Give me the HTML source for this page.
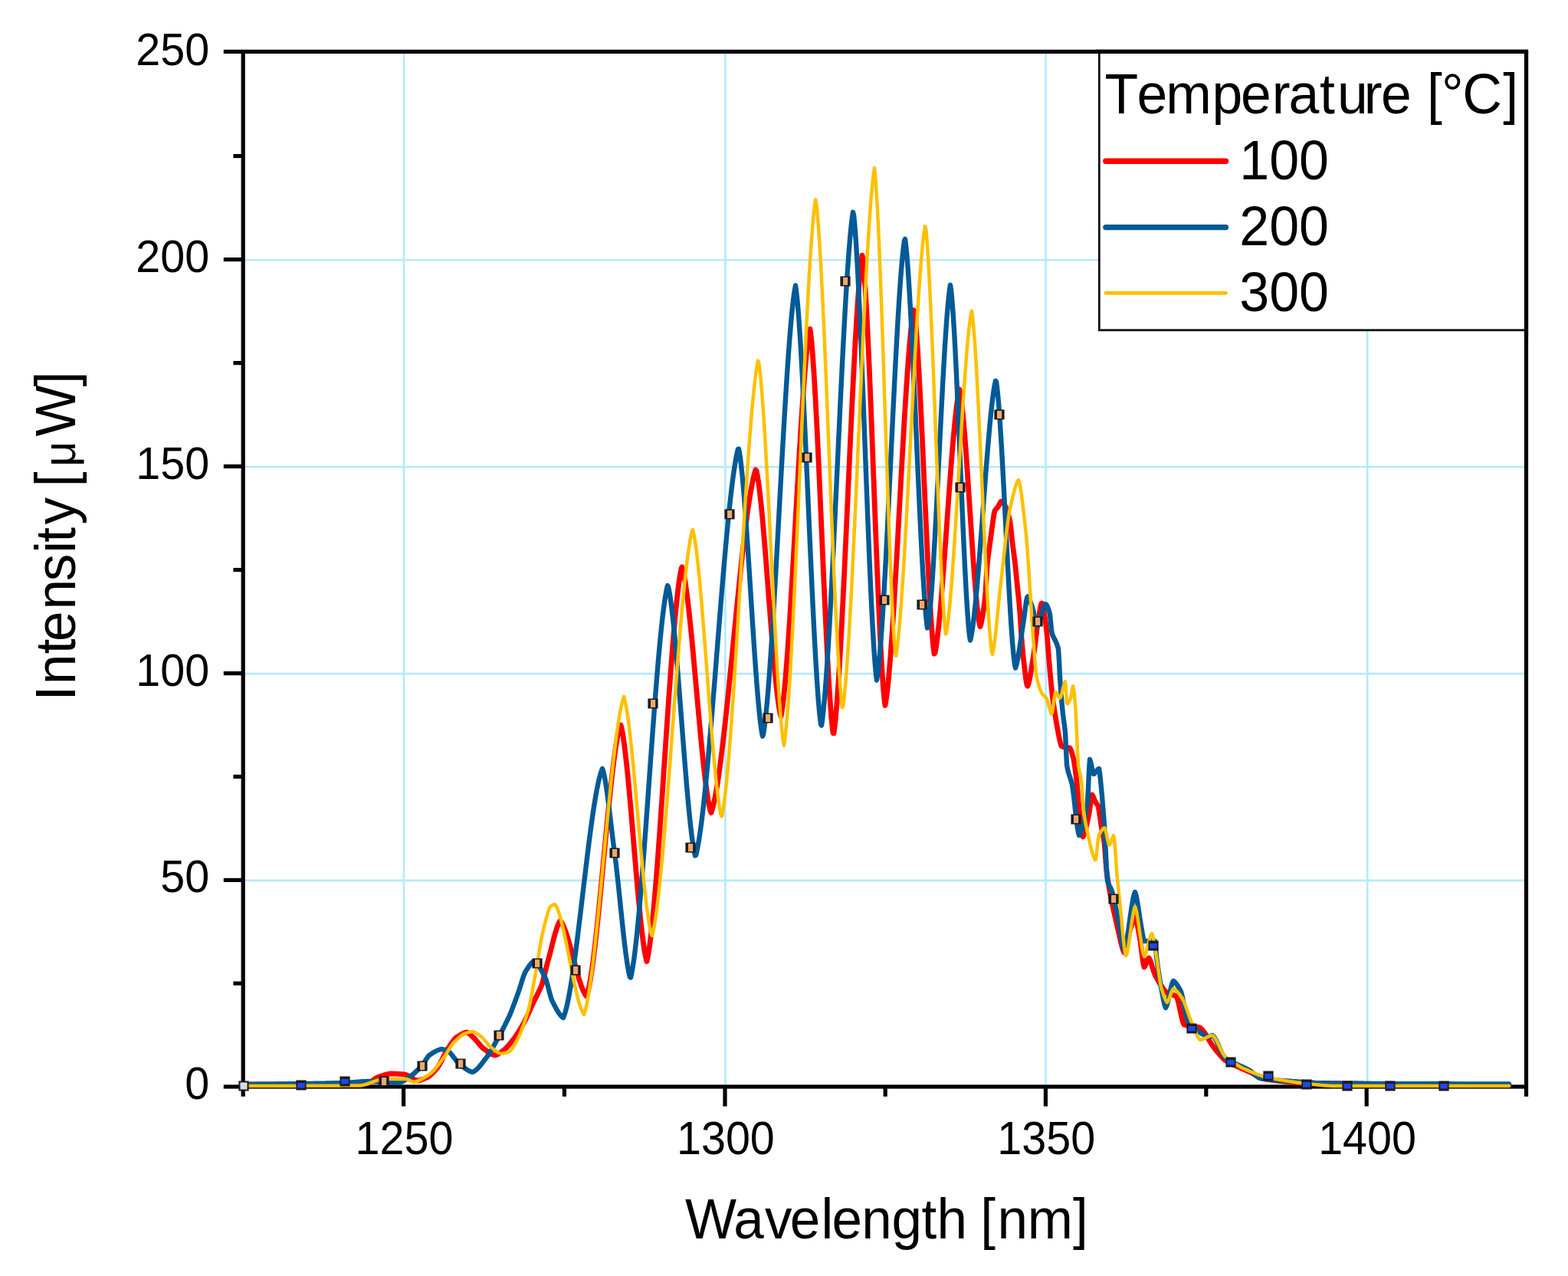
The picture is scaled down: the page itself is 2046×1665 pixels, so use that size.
<!DOCTYPE html><html><head><meta charset="utf-8"><style>html,body{margin:0;padding:0;background:#fff;overflow:hidden;}svg{display:block;}</style></head><body><svg width="2046" height="1665" viewBox="0 0 2046 1665">
<rect width="2046" height="1665" fill="#fff"/>
<line x1="527.0" y1="67.4" x2="527.0" y2="1418.0" stroke="#b4eafc" stroke-width="2.6"/>
<line x1="946.4" y1="67.4" x2="946.4" y2="1418.0" stroke="#b4eafc" stroke-width="2.6"/>
<line x1="1364.6" y1="67.4" x2="1364.6" y2="1418.0" stroke="#b4eafc" stroke-width="2.6"/>
<line x1="1784.2" y1="67.4" x2="1784.2" y2="1418.0" stroke="#b4eafc" stroke-width="2.6"/>
<line x1="317.2" y1="339.3" x2="1991.5" y2="339.3" stroke="#b4eafc" stroke-width="2.6"/>
<line x1="317.2" y1="609.3" x2="1991.5" y2="609.3" stroke="#b4eafc" stroke-width="2.6"/>
<line x1="317.2" y1="879.1" x2="1991.5" y2="879.1" stroke="#b4eafc" stroke-width="2.6"/>
<line x1="317.2" y1="1148.9" x2="1991.5" y2="1148.9" stroke="#b4eafc" stroke-width="2.6"/>
<g stroke="#000" stroke-width="5.2" fill="none" stroke-linecap="butt">
<rect x="317.2" y="67.4" width="1674.3" height="1350.6"/>
<line x1="291.8" y1="1418.0" x2="317.2" y2="1418.0"/>
<line x1="291.8" y1="1148.4" x2="317.2" y2="1148.4"/>
<line x1="291.8" y1="878.6" x2="317.2" y2="878.6"/>
<line x1="291.8" y1="608.6" x2="317.2" y2="608.6"/>
<line x1="291.8" y1="338.6" x2="317.2" y2="338.6"/>
<line x1="291.8" y1="67.4" x2="317.2" y2="67.4"/>
<line x1="304.4" y1="1283.2" x2="317.2" y2="1283.2"/>
<line x1="304.4" y1="1013.4" x2="317.2" y2="1013.4"/>
<line x1="304.4" y1="743.6" x2="317.2" y2="743.6"/>
<line x1="304.4" y1="473.6" x2="317.2" y2="473.6"/>
<line x1="304.4" y1="203.6" x2="317.2" y2="203.6"/>
<line x1="526.6" y1="1418.0" x2="526.6" y2="1443.6"/>
<line x1="946.0" y1="1418.0" x2="946.0" y2="1443.6"/>
<line x1="1364.4" y1="1418.0" x2="1364.4" y2="1443.6"/>
<line x1="1783.2" y1="1418.0" x2="1783.2" y2="1443.6"/>
<line x1="736.4" y1="1418.0" x2="736.4" y2="1430.8"/>
<line x1="1155.2" y1="1418.0" x2="1155.2" y2="1430.8"/>
<line x1="1573.8" y1="1418.0" x2="1573.8" y2="1430.8"/>
<line x1="317.2" y1="1418.0" x2="317.2" y2="1430.8"/>
<line x1="1991.5" y1="1418.0" x2="1991.5" y2="1430.8"/>
</g>
<g fill="none" stroke-linejoin="round" stroke-linecap="round">
<path d="M319.0 1415.0L320.0 1415.0L321.0 1415.0L322.0 1415.0L323.0 1415.0L324.0 1415.0L325.0 1415.0L326.0 1415.0L327.0 1415.0L328.0 1415.0L329.0 1415.0L330.0 1415.0L331.0 1415.0L332.0 1415.0L333.0 1415.0L334.0 1414.9L335.0 1414.9L336.0 1414.9L337.0 1414.9L338.0 1414.9L339.0 1414.9L340.0 1414.9L341.0 1414.9L342.0 1414.9L343.0 1414.9L344.0 1414.9L345.0 1414.9L346.0 1414.9L347.0 1414.9L348.0 1414.9L349.0 1414.9L350.0 1414.9L351.0 1414.9L352.0 1414.9L353.0 1414.9L354.0 1414.9L355.0 1414.9L356.0 1414.9L357.0 1414.9L358.0 1414.8L359.0 1414.8L360.0 1414.8L361.0 1414.8L362.0 1414.8L363.0 1414.8L364.0 1414.8L365.0 1414.8L366.0 1414.8L367.0 1414.8L368.0 1414.8L369.0 1414.8L370.0 1414.8L371.0 1414.8L372.0 1414.8L373.0 1414.8L374.0 1414.8L375.0 1414.8L376.0 1414.7L377.0 1414.7L378.0 1414.7L379.0 1414.7L380.0 1414.7L381.0 1414.7L382.0 1414.7L383.0 1414.7L384.0 1414.7L385.0 1414.7L386.0 1414.7L387.0 1414.7L388.0 1414.7L389.0 1414.7L390.0 1414.7L391.0 1414.6L392.0 1414.6L393.0 1414.6L394.0 1414.6L395.0 1414.6L396.0 1414.6L397.0 1414.6L398.0 1414.6L399.0 1414.6L400.0 1414.6L401.0 1414.6L402.0 1414.6L403.0 1414.6L404.0 1414.5L405.0 1414.5L406.0 1414.5L407.0 1414.5L408.0 1414.5L409.0 1414.5L410.0 1414.5L411.0 1414.5L412.0 1414.5L413.0 1414.5L414.0 1414.5L415.0 1414.4L416.0 1414.4L417.0 1414.4L418.0 1414.4L419.0 1414.4L420.0 1414.4L421.0 1414.4L422.0 1414.4L423.0 1414.4L424.0 1414.3L425.0 1414.3L426.0 1414.3L427.0 1414.3L428.0 1414.3L429.0 1414.3L430.0 1414.3L431.0 1414.3L432.0 1414.3L433.0 1414.2L434.0 1414.2L435.0 1414.2L436.0 1414.2L437.0 1414.2L438.0 1414.2L439.0 1414.2L440.0 1414.2L441.0 1414.1L442.0 1414.1L443.0 1414.1L444.0 1414.1L445.0 1414.1L446.0 1414.1L447.0 1414.1L448.0 1414.0L449.0 1414.0L450.0 1414.0L451.0 1414.0L452.0 1414.0L453.0 1414.0L454.0 1414.0L455.0 1413.9L456.0 1413.9L457.0 1413.9L458.0 1413.9L459.0 1413.9L460.0 1413.9L461.0 1413.8L462.0 1413.8L463.0 1413.8L464.0 1413.8L465.0 1413.8L466.0 1413.8L467.0 1413.7L468.0 1413.7L469.0 1413.7L470.0 1413.7L471.0 1413.7L472.0 1413.7L473.0 1413.6L474.0 1413.6L475.0 1413.6L476.0 1413.6L477.0 1413.6L478.0 1413.5L479.0 1413.5L480.0 1413.5L481.0 1413.2L482.0 1412.7L483.0 1412.2L484.0 1411.6L485.0 1410.9L486.0 1410.1L487.0 1409.3L488.0 1408.6L489.0 1407.8L490.0 1407.2L491.0 1406.5L492.0 1406.0L493.0 1405.6L494.0 1405.3L495.0 1404.9L496.0 1404.6L497.0 1404.2L498.0 1403.9L499.0 1403.6L500.0 1403.2L501.0 1402.9L502.0 1402.6L503.0 1402.3L504.0 1402.1L505.0 1401.8L506.0 1401.6L507.0 1401.4L508.0 1401.3L509.0 1401.1L510.0 1401.0L511.0 1401.0L512.0 1401.0L513.0 1401.1L514.0 1401.1L515.0 1401.2L516.0 1401.2L517.0 1401.2L518.0 1401.3L519.0 1401.4L520.0 1401.4L521.0 1401.5L522.0 1401.5L523.0 1401.6L524.0 1401.7L525.0 1401.8L526.0 1401.8L527.0 1401.9L528.0 1402.0L529.0 1402.3L530.0 1402.6L531.0 1403.1L532.0 1403.5L533.0 1404.1L534.0 1404.6L535.0 1405.2L536.0 1405.8L537.0 1406.4L538.0 1407.0L539.0 1407.6L540.0 1408.2L541.0 1408.7L542.0 1409.1L543.0 1409.5L544.0 1409.8L545.0 1410.0L546.0 1409.9L547.0 1409.7L548.0 1409.4L549.0 1409.1L550.0 1408.8L551.0 1408.5L552.0 1408.1L553.0 1407.7L554.0 1407.3L555.0 1406.9L556.0 1406.4L557.0 1405.9L558.0 1405.5L559.0 1405.0L560.0 1404.3L561.0 1403.5L562.0 1402.6L563.0 1401.7L564.0 1400.7L565.0 1399.7L566.0 1398.7L567.0 1397.6L568.0 1396.5L569.0 1395.3L570.0 1394.2L571.0 1393.0L572.0 1391.4L573.0 1389.8L574.0 1388.0L575.0 1386.1L576.0 1384.2L577.0 1382.3L578.0 1380.3L579.0 1378.3L580.0 1376.3L581.0 1374.4L582.0 1372.5L583.0 1370.7L584.0 1369.0L585.0 1367.5L586.0 1366.0L587.0 1364.5L588.0 1363.0L589.0 1361.5L590.0 1360.1L591.0 1358.7L592.0 1357.4L593.0 1356.2L594.0 1355.0L595.0 1354.0L596.0 1353.3L597.0 1352.7L598.0 1352.0L599.0 1351.4L600.0 1350.8L601.0 1350.2L602.0 1349.7L603.0 1349.1L604.0 1348.6L605.0 1348.2L606.0 1347.8L607.0 1347.5L608.0 1347.2L609.0 1347.0L610.0 1347.4L611.0 1347.9L612.0 1348.6L613.0 1349.4L614.0 1350.3L615.0 1351.2L616.0 1352.2L617.0 1353.1L618.0 1354.0L619.0 1355.0L620.0 1356.1L621.0 1357.2L622.0 1358.4L623.0 1359.6L624.0 1360.8L625.0 1362.0L626.0 1363.2L627.0 1364.4L628.0 1365.5L629.0 1366.6L630.0 1367.5L631.0 1368.4L632.0 1369.1L633.0 1369.8L634.0 1370.5L635.0 1371.2L636.0 1372.0L637.0 1372.6L638.0 1373.3L639.0 1373.9L640.0 1374.5L641.0 1375.1L642.0 1375.6L643.0 1376.1L644.0 1376.4L645.0 1376.8L646.0 1377.0L647.0 1376.7L648.0 1376.4L649.0 1375.9L650.0 1375.4L651.0 1374.8L652.0 1374.2L653.0 1373.5L654.0 1372.8L655.0 1372.0L656.0 1371.3L657.0 1370.5L658.0 1369.8L659.0 1369.0L660.0 1368.0L661.0 1367.0L662.0 1365.9L663.0 1364.8L664.0 1363.6L665.0 1362.4L666.0 1361.2L667.0 1359.9L668.0 1358.6L669.0 1357.3L670.0 1356.0L671.0 1354.7L672.0 1353.3L673.0 1352.0L674.0 1350.5L675.0 1348.9L676.0 1347.4L677.0 1345.8L678.0 1344.1L679.0 1342.5L680.0 1340.8L681.0 1339.1L682.0 1337.3L683.0 1335.6L684.0 1333.8L685.0 1332.0L686.0 1330.0L687.0 1327.9L688.0 1325.7L689.0 1323.5L690.0 1321.3L691.0 1319.1L692.0 1316.9L693.0 1314.6L694.0 1312.4L695.0 1310.2L696.0 1308.0L697.0 1305.9L698.0 1303.9L699.0 1301.9L700.0 1300.0L701.0 1298.0L702.0 1296.1L703.0 1294.0L704.0 1291.9L705.0 1289.8L706.0 1287.4L707.0 1285.0L708.0 1281.7L709.0 1278.0L710.0 1274.1L711.0 1270.0L712.0 1265.9L713.0 1261.8L714.0 1257.8L715.0 1254.0L716.0 1250.4L717.0 1246.7L718.0 1242.8L719.0 1238.8L720.0 1234.8L721.0 1230.8L722.0 1226.9L723.0 1223.1L724.0 1219.4L725.0 1215.9L726.0 1212.7L727.0 1209.7L728.0 1207.0L729.0 1204.8L730.0 1202.9L731.0 1201.5L732.0 1202.7L733.0 1204.1L734.0 1205.9L735.0 1207.9L736.0 1210.2L737.0 1212.7L738.0 1215.4L739.0 1218.3L740.0 1221.4L741.0 1224.6L742.0 1228.0L743.0 1231.5L744.0 1235.0L745.0 1238.7L746.0 1242.4L747.0 1246.2L748.0 1250.0L749.0 1253.8L750.0 1257.6L751.0 1261.3L752.0 1265.0L753.0 1268.6L754.0 1272.1L755.0 1275.6L756.0 1278.9L757.0 1282.0L758.0 1285.0L759.0 1287.8L760.0 1290.4L761.0 1292.7L762.0 1294.8L763.0 1296.7L764.0 1298.3L765.0 1299.6L766.0 1298.2L767.0 1294.6L768.0 1290.4L769.0 1285.6L770.0 1280.2L771.0 1274.2L772.0 1267.6L773.0 1260.6L774.0 1253.2L775.0 1245.3L776.0 1237.0L777.0 1228.3L778.0 1219.3L779.0 1210.0L780.0 1200.4L781.0 1190.6L782.0 1180.5L783.0 1170.3L784.0 1160.0L785.0 1149.5L786.0 1138.9L787.0 1128.3L788.0 1117.7L789.0 1107.1L790.0 1096.6L791.0 1086.1L792.0 1075.7L793.0 1065.5L794.0 1055.4L795.0 1045.6L796.0 1036.0L797.0 1026.6L798.0 1017.6L799.0 1008.9L800.0 1000.6L801.0 992.6L802.0 985.1L803.0 978.0L804.0 971.5L805.0 965.4L806.0 959.9L807.0 955.0L808.0 950.8L809.0 947.1L810.0 946.0L811.0 950.0L812.0 954.9L813.0 960.7L814.0 967.3L815.0 974.7L816.0 982.8L817.0 991.5L818.0 1000.9L819.0 1010.7L820.0 1021.1L821.0 1031.8L822.0 1042.9L823.0 1054.3L824.0 1065.9L825.0 1077.7L826.0 1089.6L827.0 1101.5L828.0 1113.5L829.0 1125.4L830.0 1137.1L831.0 1148.7L832.0 1160.0L833.0 1171.0L834.0 1181.6L835.0 1191.8L836.0 1201.5L837.0 1210.7L838.0 1219.2L839.0 1227.1L840.0 1234.3L841.0 1240.7L842.0 1246.2L843.0 1250.8L844.0 1254.5L845.0 1250.1L846.0 1244.7L847.0 1238.5L848.0 1231.5L849.0 1223.6L850.0 1215.0L851.0 1205.7L852.0 1195.7L853.0 1185.1L854.0 1173.9L855.0 1162.2L856.0 1149.9L857.0 1137.3L858.0 1124.2L859.0 1110.7L860.0 1096.9L861.0 1082.8L862.0 1068.4L863.0 1053.9L864.0 1039.2L865.0 1024.4L866.0 1009.4L867.0 994.5L868.0 979.6L869.0 964.7L870.0 949.9L871.0 935.2L872.0 920.7L873.0 906.5L874.0 892.5L875.0 878.7L876.0 865.4L877.0 852.4L878.0 839.8L879.0 827.7L880.0 816.2L881.0 805.2L882.0 794.7L883.0 784.9L884.0 775.8L885.0 767.5L886.0 759.8L887.0 753.0L888.0 747.1L889.0 742.0L890.0 739.9L891.0 743.6L892.0 748.0L893.0 753.2L894.0 759.1L895.0 765.7L896.0 772.9L897.0 780.7L898.0 789.0L899.0 797.8L900.0 807.1L901.0 816.7L902.0 826.7L903.0 837.0L904.0 847.6L905.0 858.4L906.0 869.4L907.0 880.4L908.0 891.6L909.0 902.8L910.0 914.0L911.0 925.1L912.0 936.1L913.0 947.0L914.0 957.7L915.0 968.1L916.0 978.3L917.0 988.1L918.0 997.6L919.0 1006.6L920.0 1015.2L921.0 1023.3L922.0 1030.8L923.0 1037.7L924.0 1043.9L925.0 1049.5L926.0 1054.3L927.0 1058.4L928.0 1060.5L929.0 1057.4L930.0 1053.9L931.0 1049.9L932.0 1045.5L933.0 1040.6L934.0 1035.3L935.0 1029.6L936.0 1023.5L937.0 1017.0L938.0 1010.2L939.0 1003.1L940.0 995.6L941.0 987.8L942.0 979.8L943.0 971.5L944.0 963.0L945.0 954.2L946.0 945.2L947.0 936.0L948.0 926.7L949.0 917.2L950.0 907.5L951.0 897.8L952.0 887.9L953.0 877.9L954.0 867.9L955.0 857.8L956.0 847.7L957.0 837.5L958.0 827.4L959.0 817.2L960.0 807.1L961.0 797.1L962.0 787.1L963.0 777.2L964.0 767.4L965.0 757.7L966.0 748.2L967.0 738.8L968.0 729.6L969.0 720.6L970.0 711.8L971.0 703.2L972.0 694.8L973.0 686.7L974.0 678.9L975.0 671.4L976.0 664.2L977.0 657.3L978.0 650.8L979.0 644.6L980.0 638.8L981.0 633.5L982.0 628.5L983.0 624.0L984.0 619.9L985.0 616.2L986.0 613.1L987.0 614.3L988.0 619.0L989.0 624.8L990.0 631.6L991.0 639.3L992.0 647.9L993.0 657.2L994.0 667.3L995.0 677.9L996.0 689.2L997.0 700.9L998.0 713.1L999.0 725.5L1000.0 738.3L1001.0 751.2L1002.0 764.3L1003.0 777.4L1004.0 790.5L1005.0 803.5L1006.0 816.4L1007.0 829.0L1008.0 841.3L1009.0 853.2L1010.0 864.6L1011.0 875.5L1012.0 885.8L1013.0 895.5L1014.0 904.4L1015.0 912.4L1016.0 919.6L1017.0 925.8L1018.0 931.0L1019.0 935.0L1020.0 929.6L1021.0 922.9L1022.0 915.0L1023.0 905.9L1024.0 895.8L1025.0 884.6L1026.0 872.4L1027.0 859.4L1028.0 845.6L1029.0 831.1L1030.0 815.9L1031.0 800.1L1032.0 783.8L1033.0 767.1L1034.0 750.1L1035.0 732.7L1036.0 715.2L1037.0 697.5L1038.0 679.7L1039.0 662.0L1040.0 644.3L1041.0 626.8L1042.0 609.5L1043.0 592.5L1044.0 575.9L1045.0 559.7L1046.0 544.0L1047.0 529.0L1048.0 514.6L1049.0 500.9L1050.0 488.1L1051.0 476.1L1052.0 465.1L1053.0 455.2L1054.0 446.3L1055.0 438.6L1056.0 432.2L1057.0 429.3L1058.0 436.8L1059.0 446.4L1060.0 457.9L1061.0 471.1L1062.0 485.9L1063.0 502.2L1064.0 519.8L1065.0 538.6L1066.0 558.4L1067.0 579.0L1068.0 600.4L1069.0 622.4L1070.0 644.9L1071.0 667.6L1072.0 690.6L1073.0 713.5L1074.0 736.3L1075.0 758.9L1076.0 781.0L1077.0 802.6L1078.0 823.5L1079.0 843.6L1080.0 862.7L1081.0 880.6L1082.0 897.3L1083.0 912.6L1084.0 926.3L1085.0 938.3L1086.0 948.5L1087.0 956.7L1088.0 956.9L1089.0 949.4L1090.0 940.3L1091.0 929.7L1092.0 917.7L1093.0 904.4L1094.0 889.9L1095.0 874.2L1096.0 857.5L1097.0 839.9L1098.0 821.4L1099.0 802.2L1100.0 782.3L1101.0 761.8L1102.0 740.8L1103.0 719.4L1104.0 697.7L1105.0 675.8L1106.0 653.7L1107.0 631.7L1108.0 609.7L1109.0 587.8L1110.0 566.2L1111.0 544.9L1112.0 524.0L1113.0 503.7L1114.0 484.0L1115.0 464.9L1116.0 446.7L1117.0 429.3L1118.0 413.0L1119.0 397.6L1120.0 383.5L1121.0 370.6L1122.0 359.0L1123.0 348.8L1124.0 340.2L1125.0 333.2L1126.0 338.4L1127.0 348.5L1128.0 361.0L1129.0 375.6L1130.0 392.1L1131.0 410.4L1132.0 430.2L1133.0 451.5L1134.0 474.0L1135.0 497.6L1136.0 522.0L1137.0 547.2L1138.0 572.9L1139.0 598.9L1140.0 625.2L1141.0 651.4L1142.0 677.5L1143.0 703.3L1144.0 728.5L1145.0 753.0L1146.0 776.7L1147.0 799.3L1148.0 820.7L1149.0 840.7L1150.0 859.2L1151.0 875.9L1152.0 890.6L1153.0 903.3L1154.0 913.7L1155.0 920.5L1156.0 914.8L1157.0 907.8L1158.0 899.5L1159.0 890.0L1160.0 879.4L1161.0 867.8L1162.0 855.2L1163.0 841.6L1164.0 827.3L1165.0 812.3L1166.0 796.5L1167.0 780.2L1168.0 763.4L1169.0 746.1L1170.0 728.5L1171.0 710.6L1172.0 692.5L1173.0 674.3L1174.0 656.0L1175.0 637.8L1176.0 619.6L1177.0 601.6L1178.0 583.9L1179.0 566.5L1180.0 549.5L1181.0 532.9L1182.0 517.0L1183.0 501.6L1184.0 487.0L1185.0 473.1L1186.0 460.2L1187.0 448.1L1188.0 437.1L1189.0 427.1L1190.0 418.4L1191.0 410.8L1192.0 404.6L1193.0 405.3L1194.0 413.5L1195.0 424.0L1196.0 436.5L1197.0 450.7L1198.0 466.7L1199.0 484.0L1200.0 502.6L1201.0 522.4L1202.0 543.0L1203.0 564.3L1204.0 586.2L1205.0 608.4L1206.0 630.7L1207.0 653.1L1208.0 675.2L1209.0 697.0L1210.0 718.2L1211.0 738.7L1212.0 758.2L1213.0 776.6L1214.0 793.7L1215.0 809.3L1216.0 823.2L1217.0 835.3L1218.0 845.3L1219.0 853.1L1220.0 852.1L1221.0 846.9L1222.0 840.6L1223.0 833.2L1224.0 824.9L1225.0 815.7L1226.0 805.6L1227.0 794.8L1228.0 783.3L1229.0 771.2L1230.0 758.6L1231.0 745.6L1232.0 732.2L1233.0 718.5L1234.0 704.6L1235.0 690.6L1236.0 676.6L1237.0 662.6L1238.0 648.6L1239.0 634.9L1240.0 621.4L1241.0 608.3L1242.0 595.5L1243.0 583.3L1244.0 571.6L1245.0 560.6L1246.0 550.3L1247.0 540.8L1248.0 532.2L1249.0 524.5L1250.0 517.9L1251.0 512.3L1252.0 508.0L1253.0 512.9L1254.0 519.3L1255.0 527.2L1256.0 536.3L1257.0 546.7L1258.0 558.1L1259.0 570.4L1260.0 583.5L1261.0 597.3L1262.0 611.7L1263.0 626.5L1264.0 641.6L1265.0 656.9L1266.0 672.2L1267.0 687.4L1268.0 702.5L1269.0 717.2L1270.0 731.5L1271.0 745.2L1272.0 758.1L1273.0 770.3L1274.0 781.5L1275.0 791.6L1276.0 800.5L1277.0 808.1L1278.0 814.2L1279.0 817.6L1280.0 814.5L1281.0 810.0L1282.0 804.4L1283.0 797.9L1284.0 790.8L1285.0 783.3L1286.0 771.7L1287.0 755.3L1288.0 739.2L1289.0 728.8L1290.0 721.3L1291.0 714.3L1292.0 707.0L1293.0 699.5L1294.0 692.0L1295.0 684.9L1296.0 677.6L1297.0 670.9L1298.0 666.6L1299.0 665.1L1300.0 663.9L1301.0 662.8L1302.0 661.7L1303.0 660.1L1304.0 658.0L1305.0 655.9L1306.0 654.3L1307.0 654.3L1308.0 655.2L1309.0 656.4L1310.0 657.8L1311.0 659.4L1312.0 661.0L1313.0 663.5L1314.0 666.3L1315.0 669.4L1316.0 672.9L1317.0 676.7L1318.0 681.0L1319.0 689.0L1320.0 698.6L1321.0 708.0L1322.0 715.7L1323.0 723.1L1324.0 730.7L1325.0 739.7L1326.0 749.7L1327.0 759.9L1328.0 769.9L1329.0 779.4L1330.0 789.3L1331.0 802.1L1332.0 819.1L1333.0 833.1L1334.0 844.6L1335.0 855.1L1336.0 864.2L1337.0 872.8L1338.0 881.2L1339.0 888.5L1340.0 894.0L1341.0 895.2L1342.0 892.2L1343.0 888.2L1344.0 883.3L1345.0 877.8L1346.0 871.8L1347.0 865.4L1348.0 859.0L1349.0 852.7L1350.0 846.1L1351.0 838.2L1352.0 829.7L1353.0 821.3L1354.0 813.5L1355.0 807.1L1356.0 801.2L1357.0 795.6L1358.0 790.7L1359.0 787.1L1360.0 787.3L1361.0 791.1L1362.0 796.4L1363.0 802.8L1364.0 809.8L1365.0 817.1L1366.0 826.2L1367.0 838.3L1368.0 851.4L1369.0 864.2L1370.0 875.5L1371.0 886.3L1372.0 896.7L1373.0 906.3L1374.0 914.2L1375.0 921.2L1376.0 927.9L1377.0 934.3L1378.0 940.4L1379.0 946.3L1380.0 951.6L1381.0 956.9L1382.0 962.1L1383.0 966.8L1384.0 970.8L1385.0 973.6L1386.0 974.2L1387.0 974.5L1388.0 974.7L1389.0 974.8L1390.0 974.9L1391.0 975.0L1392.0 975.2L1393.0 975.3L1394.0 975.5L1395.0 975.7L1396.0 976.0L1397.0 977.8L1398.0 980.4L1399.0 983.6L1400.0 987.2L1401.0 991.0L1402.0 997.0L1403.0 1004.0L1404.0 1011.7L1405.0 1020.0L1406.0 1031.3L1407.0 1043.7L1408.0 1055.0L1409.0 1063.9L1410.0 1073.0L1411.0 1081.2L1412.0 1087.9L1413.0 1092.0L1414.0 1090.2L1415.0 1087.5L1416.0 1084.1L1417.0 1080.1L1418.0 1075.8L1419.0 1071.2L1420.0 1066.5L1421.0 1062.0L1422.0 1055.5L1423.0 1047.9L1424.0 1041.1L1425.0 1037.0L1426.0 1038.5L1427.0 1040.9L1428.0 1043.6L1429.0 1046.0L1430.0 1047.5L1431.0 1048.8L1432.0 1050.2L1433.0 1052.0L1434.0 1057.1L1435.0 1063.9L1436.0 1071.2L1437.0 1078.0L1438.0 1083.4L1439.0 1088.4L1440.0 1093.7L1441.0 1100.0L1442.0 1111.9L1443.0 1126.0L1444.0 1138.0L1445.0 1144.8L1446.0 1151.1L1447.0 1157.1L1448.0 1162.8L1449.0 1168.2L1450.0 1173.4L1451.0 1178.3L1452.0 1183.0L1453.0 1187.6L1454.0 1192.1L1455.0 1196.5L1456.0 1200.9L1457.0 1205.2L1458.0 1209.6L1459.0 1214.0L1460.0 1218.1L1461.0 1222.5L1462.0 1226.9L1463.0 1231.2L1464.0 1235.1L1465.0 1238.5L1466.0 1241.2L1467.0 1243.0L1468.0 1241.0L1469.0 1237.9L1470.0 1234.0L1471.0 1229.5L1472.0 1224.8L1473.0 1220.2L1474.0 1215.8L1475.0 1212.0L1476.0 1208.9L1477.0 1205.6L1478.0 1202.5L1479.0 1199.7L1480.0 1197.4L1481.0 1196.0L1482.0 1198.3L1483.0 1201.9L1484.0 1206.4L1485.0 1211.6L1486.0 1216.9L1487.0 1222.0L1488.0 1228.6L1489.0 1236.4L1490.0 1244.6L1491.0 1252.1L1492.0 1258.2L1493.0 1262.0L1494.0 1260.7L1495.0 1258.6L1496.0 1256.0L1497.0 1253.4L1498.0 1251.3L1499.0 1250.0L1500.0 1251.4L1501.0 1253.7L1502.0 1256.5L1503.0 1259.7L1504.0 1263.1L1505.0 1266.4L1506.0 1269.4L1507.0 1272.0L1508.0 1273.8L1509.0 1275.6L1510.0 1277.4L1511.0 1279.2L1512.0 1281.0L1513.0 1282.7L1514.0 1284.3L1515.0 1285.9L1516.0 1287.5L1517.0 1288.9L1518.0 1290.3L1519.0 1291.7L1520.0 1292.9L1521.0 1294.0L1522.0 1295.1L1523.0 1296.0L1524.0 1296.4L1525.0 1296.8L1526.0 1297.1L1527.0 1297.4L1528.0 1297.7L1529.0 1297.9L1530.0 1298.2L1531.0 1298.4L1532.0 1298.7L1533.0 1299.1L1534.0 1299.5L1535.0 1300.0L1536.0 1302.3L1537.0 1305.5L1538.0 1309.5L1539.0 1314.0L1540.0 1318.7L1541.0 1323.4L1542.0 1327.8L1543.0 1331.7L1544.0 1334.9L1545.0 1337.0L1546.0 1337.3L1547.0 1337.6L1548.0 1337.8L1549.0 1338.1L1550.0 1338.3L1551.0 1338.4L1552.0 1338.6L1553.0 1338.8L1554.0 1338.9L1555.0 1339.0L1556.0 1339.2L1557.0 1339.3L1558.0 1339.4L1559.0 1339.6L1560.0 1339.7L1561.0 1339.9L1562.0 1340.1L1563.0 1340.3L1564.0 1340.5L1565.0 1340.7L1566.0 1341.0L1567.0 1341.8L1568.0 1342.8L1569.0 1343.9L1570.0 1345.1L1571.0 1346.5L1572.0 1347.9L1573.0 1349.4L1574.0 1351.0L1575.0 1352.6L1576.0 1354.3L1577.0 1356.0L1578.0 1357.7L1579.0 1359.4L1580.0 1361.0L1581.0 1362.6L1582.0 1364.1L1583.0 1365.6L1584.0 1367.0L1585.0 1368.2L1586.0 1369.5L1587.0 1370.7L1588.0 1372.0L1589.0 1373.2L1590.0 1374.4L1591.0 1375.6L1592.0 1376.8L1593.0 1377.9L1594.0 1379.1L1595.0 1380.1L1596.0 1381.1L1597.0 1382.1L1598.0 1383.0L1599.0 1383.6L1600.0 1384.2L1601.0 1384.8L1602.0 1385.4L1603.0 1386.0L1604.0 1386.5L1605.0 1387.1L1606.0 1387.6L1607.0 1388.1L1608.0 1388.6L1609.0 1389.1L1610.0 1389.6L1611.0 1390.0L1612.0 1390.5L1613.0 1391.0L1614.0 1391.4L1615.0 1391.9L1616.0 1392.3L1617.0 1392.8L1618.0 1393.2L1619.0 1393.6L1620.0 1394.1L1621.0 1394.5L1622.0 1394.9L1623.0 1395.4L1624.0 1395.8L1625.0 1396.2L1626.0 1396.7L1627.0 1397.1L1628.0 1397.6L1629.0 1398.1L1630.0 1398.5L1631.0 1399.0L1632.0 1399.5L1633.0 1400.0L1634.0 1400.5L1635.0 1401.0L1636.0 1401.6L1637.0 1402.1L1638.0 1402.6L1639.0 1403.2L1640.0 1403.7L1641.0 1404.2L1642.0 1404.7L1643.0 1405.2L1644.0 1405.7L1645.0 1406.1L1646.0 1406.6L1647.0 1407.0L1648.0 1407.4L1649.0 1407.7L1650.0 1408.0L1651.0 1408.2L1652.0 1408.3L1653.0 1408.5L1654.0 1408.6L1655.0 1408.7L1656.0 1408.9L1657.0 1409.0L1658.0 1409.2L1659.0 1409.3L1660.0 1409.4L1661.0 1409.6L1662.0 1409.7L1663.0 1409.8L1664.0 1409.9L1665.0 1410.1L1666.0 1410.2L1667.0 1410.3L1668.0 1410.4L1669.0 1410.5L1670.0 1410.6L1671.0 1410.7L1672.0 1410.9L1673.0 1411.0L1674.0 1411.1L1675.0 1411.2L1676.0 1411.3L1677.0 1411.4L1678.0 1411.4L1679.0 1411.5L1680.0 1411.6L1681.0 1411.7L1682.0 1411.8L1683.0 1411.9L1684.0 1412.0L1685.0 1412.0L1686.0 1412.1L1687.0 1412.2L1688.0 1412.3L1689.0 1412.3L1690.0 1412.4L1691.0 1412.5L1692.0 1412.5L1693.0 1412.6L1694.0 1412.7L1695.0 1412.7L1696.0 1412.8L1697.0 1412.8L1698.0 1412.9L1699.0 1413.0L1700.0 1413.0L1701.0 1413.0L1702.0 1413.0L1703.0 1413.1L1704.0 1413.1L1705.0 1413.1L1706.0 1413.1L1707.0 1413.1L1708.0 1413.1L1709.0 1413.1L1710.0 1413.2L1711.0 1413.2L1712.0 1413.2L1713.0 1413.2L1714.0 1413.2L1715.0 1413.2L1716.0 1413.3L1717.0 1413.3L1718.0 1413.3L1719.0 1413.3L1720.0 1413.3L1721.0 1413.3L1722.0 1413.4L1723.0 1413.4L1724.0 1413.4L1725.0 1413.4L1726.0 1413.4L1727.0 1413.4L1728.0 1413.4L1729.0 1413.5L1730.0 1413.5L1731.0 1413.5L1732.0 1413.5L1733.0 1413.5L1734.0 1413.5L1735.0 1413.6L1736.0 1413.6L1737.0 1413.6L1738.0 1413.6L1739.0 1413.6L1740.0 1413.6L1741.0 1413.6L1742.0 1413.7L1743.0 1413.7L1744.0 1413.7L1745.0 1413.7L1746.0 1413.7L1747.0 1413.7L1748.0 1413.7L1749.0 1413.7L1750.0 1413.8L1751.0 1413.8L1752.0 1413.8L1753.0 1413.8L1754.0 1413.8L1755.0 1413.8L1756.0 1413.8L1757.0 1413.9L1758.0 1413.9L1759.0 1413.9L1760.0 1413.9L1761.0 1413.9L1762.0 1413.9L1763.0 1413.9L1764.0 1413.9L1765.0 1414.0L1766.0 1414.0L1767.0 1414.0L1768.0 1414.0L1769.0 1414.0L1770.0 1414.0L1771.0 1414.0L1772.0 1414.0L1773.0 1414.1L1774.0 1414.1L1775.0 1414.1L1776.0 1414.1L1777.0 1414.1L1778.0 1414.1L1779.0 1414.1L1780.0 1414.1L1781.0 1414.2L1782.0 1414.2L1783.0 1414.2L1784.0 1414.2L1785.0 1414.2L1786.0 1414.2L1787.0 1414.2L1788.0 1414.2L1789.0 1414.2L1790.0 1414.3L1791.0 1414.3L1792.0 1414.3L1793.0 1414.3L1794.0 1414.3L1795.0 1414.3L1796.0 1414.3L1797.0 1414.3L1798.0 1414.3L1799.0 1414.4L1800.0 1414.4L1801.0 1414.4L1802.0 1414.4L1803.0 1414.4L1804.0 1414.4L1805.0 1414.4L1806.0 1414.4L1807.0 1414.4L1808.0 1414.5L1809.0 1414.5L1810.0 1414.5L1811.0 1414.5L1812.0 1414.5L1813.0 1414.5L1814.0 1414.5L1815.0 1414.5L1816.0 1414.5L1817.0 1414.5L1818.0 1414.6L1819.0 1414.6L1820.0 1414.6L1821.0 1414.6L1822.0 1414.6L1823.0 1414.6L1824.0 1414.6L1825.0 1414.6L1826.0 1414.6L1827.0 1414.6L1828.0 1414.6L1829.0 1414.7L1830.0 1414.7L1831.0 1414.7L1832.0 1414.7L1833.0 1414.7L1834.0 1414.7L1835.0 1414.7L1836.0 1414.7L1837.0 1414.7L1838.0 1414.7L1839.0 1414.7L1840.0 1414.8L1841.0 1414.8L1842.0 1414.8L1843.0 1414.8L1844.0 1414.8L1845.0 1414.8L1846.0 1414.8L1847.0 1414.8L1848.0 1414.8L1849.0 1414.8L1850.0 1414.8L1851.0 1414.8L1852.0 1414.9L1853.0 1414.9L1854.0 1414.9L1855.0 1414.9L1856.0 1414.9L1857.0 1414.9L1858.0 1414.9L1859.0 1414.9L1860.0 1414.9L1861.0 1414.9L1862.0 1414.9L1863.0 1414.9L1864.0 1414.9L1865.0 1415.0L1866.0 1415.0L1867.0 1415.0L1868.0 1415.0L1869.0 1415.0L1870.0 1415.0L1871.0 1415.0L1872.0 1415.0L1873.0 1415.0L1874.0 1415.0L1875.0 1415.0L1876.0 1415.0L1877.0 1415.0L1878.0 1415.0L1879.0 1415.1L1880.0 1415.1L1881.0 1415.1L1882.0 1415.1L1883.0 1415.1L1884.0 1415.1L1885.0 1415.1L1886.0 1415.1L1887.0 1415.1L1888.0 1415.1L1889.0 1415.1L1890.0 1415.1L1891.0 1415.1L1892.0 1415.1L1893.0 1415.1L1894.0 1415.2L1895.0 1415.2L1896.0 1415.2L1897.0 1415.2L1898.0 1415.2L1899.0 1415.2L1900.0 1415.2L1901.0 1415.2L1902.0 1415.2L1903.0 1415.2L1904.0 1415.2L1905.0 1415.2L1906.0 1415.2L1907.0 1415.2L1908.0 1415.2L1909.0 1415.2L1910.0 1415.2L1911.0 1415.3L1912.0 1415.3L1913.0 1415.3L1914.0 1415.3L1915.0 1415.3L1916.0 1415.3L1917.0 1415.3L1918.0 1415.3L1919.0 1415.3L1920.0 1415.3L1921.0 1415.3L1922.0 1415.3L1923.0 1415.3L1924.0 1415.3L1925.0 1415.3L1926.0 1415.3L1927.0 1415.3L1928.0 1415.3L1929.0 1415.3L1930.0 1415.3L1931.0 1415.4L1932.0 1415.4L1933.0 1415.4L1934.0 1415.4L1935.0 1415.4L1936.0 1415.4L1937.0 1415.4L1938.0 1415.4L1939.0 1415.4L1940.0 1415.4L1941.0 1415.4L1942.0 1415.4L1943.0 1415.4L1944.0 1415.4L1945.0 1415.4L1946.0 1415.4L1947.0 1415.4L1948.0 1415.4L1949.0 1415.4L1950.0 1415.4L1951.0 1415.4L1952.0 1415.4L1953.0 1415.4L1954.0 1415.4L1955.0 1415.5L1956.0 1415.5L1957.0 1415.5L1958.0 1415.5L1959.0 1415.5L1960.0 1415.5L1961.0 1415.5L1962.0 1415.5L1963.0 1415.5L1964.0 1415.5L1965.0 1415.5L1966.0 1415.5L1967.0 1415.5L1968.0 1415.5L1969.0 1415.5" stroke="#ff0000" stroke-width="6.8"/>
<path d="M319.0 1415.0L320.0 1415.0L321.0 1415.0L322.0 1415.0L323.0 1415.0L324.0 1415.0L325.0 1414.9L326.0 1414.9L327.0 1414.9L328.0 1414.9L329.0 1414.9L330.0 1414.9L331.0 1414.9L332.0 1414.9L333.0 1414.9L334.0 1414.9L335.0 1414.8L336.0 1414.8L337.0 1414.8L338.0 1414.8L339.0 1414.8L340.0 1414.8L341.0 1414.8L342.0 1414.8L343.0 1414.8L344.0 1414.7L345.0 1414.7L346.0 1414.7L347.0 1414.7L348.0 1414.7L349.0 1414.7L350.0 1414.7L351.0 1414.7L352.0 1414.6L353.0 1414.6L354.0 1414.6L355.0 1414.6L356.0 1414.6L357.0 1414.6L358.0 1414.6L359.0 1414.6L360.0 1414.5L361.0 1414.5L362.0 1414.5L363.0 1414.5L364.0 1414.5L365.0 1414.5L366.0 1414.5L367.0 1414.5L368.0 1414.4L369.0 1414.4L370.0 1414.4L371.0 1414.4L372.0 1414.4L373.0 1414.4L374.0 1414.4L375.0 1414.4L376.0 1414.3L377.0 1414.3L378.0 1414.3L379.0 1414.3L380.0 1414.3L381.0 1414.3L382.0 1414.3L383.0 1414.2L384.0 1414.2L385.0 1414.2L386.0 1414.2L387.0 1414.2L388.0 1414.2L389.0 1414.2L390.0 1414.1L391.0 1414.1L392.0 1414.1L393.0 1414.1L394.0 1414.1L395.0 1414.1L396.0 1414.1L397.0 1414.0L398.0 1414.0L399.0 1414.0L400.0 1414.0L401.0 1414.0L402.0 1414.0L403.0 1413.9L404.0 1413.9L405.0 1413.9L406.0 1413.9L407.0 1413.9L408.0 1413.9L409.0 1413.8L410.0 1413.8L411.0 1413.8L412.0 1413.8L413.0 1413.8L414.0 1413.8L415.0 1413.7L416.0 1413.7L417.0 1413.7L418.0 1413.7L419.0 1413.7L420.0 1413.7L421.0 1413.6L422.0 1413.6L423.0 1413.6L424.0 1413.6L425.0 1413.6L426.0 1413.5L427.0 1413.5L428.0 1413.5L429.0 1413.5L430.0 1413.5L431.0 1413.5L432.0 1413.4L433.0 1413.4L434.0 1413.4L435.0 1413.4L436.0 1413.3L437.0 1413.3L438.0 1413.3L439.0 1413.3L440.0 1413.3L441.0 1413.2L442.0 1413.2L443.0 1413.2L444.0 1413.2L445.0 1413.1L446.0 1413.1L447.0 1413.1L448.0 1413.1L449.0 1413.0L450.0 1413.0L451.0 1413.0L452.0 1412.9L453.0 1412.8L454.0 1412.8L455.0 1412.7L456.0 1412.6L457.0 1412.6L458.0 1412.5L459.0 1412.4L460.0 1412.3L461.0 1412.3L462.0 1412.2L463.0 1412.1L464.0 1412.0L465.0 1411.9L466.0 1411.8L467.0 1411.8L468.0 1411.7L469.0 1411.6L470.0 1411.5L471.0 1411.5L472.0 1411.4L473.0 1411.3L474.0 1411.3L475.0 1411.2L476.0 1411.1L477.0 1411.1L478.0 1411.1L479.0 1411.0L480.0 1411.0L481.0 1411.0L482.0 1411.0L483.0 1411.1L484.0 1411.1L485.0 1411.2L486.0 1411.2L487.0 1411.3L488.0 1411.3L489.0 1411.4L490.0 1411.4L491.0 1411.5L492.0 1411.5L493.0 1411.6L494.0 1411.7L495.0 1411.7L496.0 1411.8L497.0 1411.8L498.0 1411.9L499.0 1411.9L500.0 1412.0L501.0 1412.1L502.0 1412.1L503.0 1412.2L504.0 1412.2L505.0 1412.3L506.0 1412.3L507.0 1412.4L508.0 1412.5L509.0 1412.5L510.0 1412.6L511.0 1412.6L512.0 1412.7L513.0 1412.7L514.0 1412.8L515.0 1412.8L516.0 1412.9L517.0 1412.9L518.0 1413.0L519.0 1413.0L520.0 1413.0L521.0 1412.8L522.0 1412.5L523.0 1412.1L524.0 1411.7L525.0 1411.2L526.0 1410.7L527.0 1410.1L528.0 1409.5L529.0 1408.9L530.0 1408.3L531.0 1407.6L532.0 1406.9L533.0 1406.3L534.0 1405.6L535.0 1405.0L536.0 1404.2L537.0 1403.4L538.0 1402.6L539.0 1401.7L540.0 1400.9L541.0 1400.0L542.0 1399.1L543.0 1398.1L544.0 1397.2L545.0 1396.2L546.0 1395.2L547.0 1394.2L548.0 1393.2L549.0 1392.1L550.0 1391.1L551.0 1390.0L552.0 1388.7L553.0 1387.2L554.0 1385.6L555.0 1384.0L556.0 1382.4L557.0 1380.9L558.0 1379.4L559.0 1378.1L560.0 1377.0L561.0 1376.3L562.0 1375.7L563.0 1375.0L564.0 1374.3L565.0 1373.7L566.0 1373.1L567.0 1372.5L568.0 1372.0L569.0 1371.5L570.0 1371.0L571.0 1370.5L572.0 1370.1L573.0 1369.8L574.0 1369.5L575.0 1369.2L576.0 1369.0L577.0 1369.1L578.0 1369.3L579.0 1369.5L580.0 1369.7L581.0 1370.0L582.0 1370.3L583.0 1370.7L584.0 1371.0L585.0 1371.7L586.0 1372.6L587.0 1373.6L588.0 1374.6L589.0 1375.8L590.0 1377.0L591.0 1378.3L592.0 1379.6L593.0 1380.9L594.0 1382.3L595.0 1383.5L596.0 1384.8L597.0 1385.9L598.0 1387.0L599.0 1388.0L600.0 1388.8L601.0 1389.5L602.0 1390.3L603.0 1391.1L604.0 1391.9L605.0 1392.6L606.0 1393.4L607.0 1394.1L608.0 1394.8L609.0 1395.5L610.0 1396.1L611.0 1396.7L612.0 1397.3L613.0 1397.8L614.0 1398.2L615.0 1398.6L616.0 1398.9L617.0 1398.8L618.0 1398.3L619.0 1397.7L620.0 1397.0L621.0 1396.2L622.0 1395.3L623.0 1394.4L624.0 1393.4L625.0 1392.3L626.0 1391.1L627.0 1390.0L628.0 1388.7L629.0 1387.5L630.0 1386.2L631.0 1384.9L632.0 1383.5L633.0 1382.2L634.0 1380.9L635.0 1379.6L636.0 1378.3L637.0 1377.0L638.0 1375.5L639.0 1373.9L640.0 1372.2L641.0 1370.5L642.0 1368.8L643.0 1367.0L644.0 1365.2L645.0 1363.4L646.0 1361.6L647.0 1359.8L648.0 1358.0L649.0 1356.1L650.0 1354.3L651.0 1352.4L652.0 1350.6L653.0 1348.7L654.0 1346.8L655.0 1345.0L656.0 1343.1L657.0 1341.2L658.0 1339.2L659.0 1337.3L660.0 1335.3L661.0 1333.3L662.0 1331.3L663.0 1329.2L664.0 1327.1L665.0 1325.0L666.0 1322.6L667.0 1320.1L668.0 1317.5L669.0 1314.9L670.0 1312.2L671.0 1309.6L672.0 1306.8L673.0 1304.1L674.0 1301.3L675.0 1298.6L676.0 1295.8L677.0 1293.0L678.0 1290.0L679.0 1286.8L680.0 1283.6L681.0 1280.3L682.0 1277.2L683.0 1274.2L684.0 1271.4L685.0 1269.0L686.0 1267.4L687.0 1265.8L688.0 1264.2L689.0 1262.6L690.0 1261.1L691.0 1259.7L692.0 1258.4L693.0 1257.2L694.0 1256.2L695.0 1255.3L696.0 1254.5L697.0 1254.0L698.0 1254.6L699.0 1255.5L700.0 1256.5L701.0 1257.6L702.0 1259.0L703.0 1260.4L704.0 1262.0L705.0 1263.6L706.0 1265.4L707.0 1267.2L708.0 1269.1L709.0 1271.1L710.0 1273.0L711.0 1275.0L712.0 1277.0L713.0 1280.0L714.0 1283.4L715.0 1287.1L716.0 1291.0L717.0 1294.9L718.0 1298.6L719.0 1302.0L720.0 1305.0L721.0 1307.0L722.0 1309.0L723.0 1310.9L724.0 1312.9L725.0 1314.8L726.0 1316.6L727.0 1318.4L728.0 1320.0L729.0 1321.6L730.0 1323.0L731.0 1324.4L732.0 1325.5L733.0 1326.5L734.0 1327.4L735.0 1328.0L736.0 1325.5L737.0 1322.6L738.0 1319.2L739.0 1315.4L740.0 1311.2L741.0 1306.5L742.0 1301.5L743.0 1296.2L744.0 1290.5L745.0 1284.5L746.0 1278.2L747.0 1271.7L748.0 1264.8L749.0 1257.8L750.0 1250.5L751.0 1243.0L752.0 1235.3L753.0 1227.5L754.0 1219.5L755.0 1211.4L756.0 1203.2L757.0 1194.9L758.0 1186.6L759.0 1178.2L760.0 1169.7L761.0 1161.3L762.0 1152.8L763.0 1144.4L764.0 1136.1L765.0 1127.8L766.0 1119.6L767.0 1111.5L768.0 1103.5L769.0 1095.7L770.0 1088.0L771.0 1080.5L772.0 1073.2L773.0 1066.2L774.0 1059.3L775.0 1052.8L776.0 1046.5L777.0 1040.5L778.0 1034.8L779.0 1029.5L780.0 1024.5L781.0 1019.8L782.0 1015.6L783.0 1011.8L784.0 1008.4L785.0 1005.5L786.0 1003.0L787.0 1005.9L788.0 1009.8L789.0 1014.6L790.0 1020.2L791.0 1026.5L792.0 1033.3L793.0 1040.7L794.0 1048.4L795.0 1056.5L796.0 1064.7L797.0 1073.1L798.0 1081.4L799.0 1089.7L800.0 1097.8L801.0 1105.6L802.0 1113.0L803.0 1120.8L804.0 1129.2L805.0 1138.0L806.0 1147.1L807.0 1156.4L808.0 1166.0L809.0 1175.7L810.0 1185.3L811.0 1195.0L812.0 1204.5L813.0 1213.8L814.0 1222.8L815.0 1231.5L816.0 1239.7L817.0 1247.3L818.0 1254.4L819.0 1260.8L820.0 1266.5L821.0 1271.3L822.0 1275.1L823.0 1275.5L824.0 1271.0L825.0 1265.8L826.0 1259.8L827.0 1253.1L828.0 1245.6L829.0 1237.6L830.0 1228.9L831.0 1219.6L832.0 1209.7L833.0 1199.4L834.0 1188.5L835.0 1177.2L836.0 1165.5L837.0 1153.4L838.0 1141.0L839.0 1128.3L840.0 1115.3L841.0 1102.0L842.0 1088.5L843.0 1074.9L844.0 1061.1L845.0 1047.2L846.0 1033.3L847.0 1019.3L848.0 1005.3L849.0 991.4L850.0 977.5L851.0 963.7L852.0 950.1L853.0 936.7L854.0 923.4L855.0 910.4L856.0 897.7L857.0 885.3L858.0 873.3L859.0 861.6L860.0 850.4L861.0 839.6L862.0 829.3L863.0 819.5L864.0 810.2L865.0 801.6L866.0 793.6L867.0 786.2L868.0 779.6L869.0 773.7L870.0 768.5L871.0 764.1L872.0 765.7L873.0 770.3L874.0 776.0L875.0 782.5L876.0 789.9L877.0 798.1L878.0 807.0L879.0 816.5L880.0 826.7L881.0 837.4L882.0 848.6L883.0 860.3L884.0 872.3L885.0 884.6L886.0 897.2L887.0 910.0L888.0 922.9L889.0 935.9L890.0 949.0L891.0 962.0L892.0 974.8L893.0 987.6L894.0 1000.1L895.0 1012.3L896.0 1024.3L897.0 1035.8L898.0 1046.9L899.0 1057.4L900.0 1067.4L901.0 1076.8L902.0 1085.5L903.0 1093.4L904.0 1100.5L905.0 1106.8L906.0 1112.2L907.0 1116.5L908.0 1115.9L909.0 1111.9L910.0 1107.2L911.0 1101.9L912.0 1096.1L913.0 1089.7L914.0 1082.8L915.0 1075.4L916.0 1067.5L917.0 1059.2L918.0 1050.4L919.0 1041.2L920.0 1031.6L921.0 1021.6L922.0 1011.3L923.0 1000.7L924.0 989.8L925.0 978.7L926.0 967.3L927.0 955.6L928.0 943.8L929.0 931.8L930.0 919.6L931.0 907.3L932.0 894.9L933.0 882.4L934.0 869.9L935.0 857.3L936.0 844.7L937.0 832.1L938.0 819.6L939.0 807.1L940.0 794.7L941.0 782.4L942.0 770.2L943.0 758.2L944.0 746.4L945.0 734.7L946.0 723.3L947.0 712.2L948.0 701.3L949.0 690.7L950.0 680.4L951.0 670.4L952.0 660.8L953.0 651.6L954.0 642.8L955.0 634.5L956.0 626.6L957.0 619.2L958.0 612.3L959.0 605.9L960.0 600.1L961.0 594.8L962.0 590.1L963.0 586.1L964.0 585.8L965.0 591.2L966.0 598.0L967.0 606.1L968.0 615.3L969.0 625.5L970.0 636.7L971.0 648.8L972.0 661.7L973.0 675.2L974.0 689.4L975.0 704.1L976.0 719.1L977.0 734.5L978.0 750.1L979.0 765.9L980.0 781.7L981.0 797.4L982.0 813.0L983.0 828.4L984.0 843.4L985.0 858.1L986.0 872.2L987.0 885.6L988.0 898.4L989.0 910.5L990.0 921.6L991.0 931.7L992.0 940.8L993.0 948.7L994.0 955.4L995.0 960.7L996.0 958.3L997.0 952.0L998.0 944.6L999.0 936.0L1000.0 926.4L1001.0 915.8L1002.0 904.3L1003.0 891.9L1004.0 878.7L1005.0 864.8L1006.0 850.2L1007.0 834.9L1008.0 819.1L1009.0 802.8L1010.0 786.0L1011.0 768.8L1012.0 751.3L1013.0 733.5L1014.0 715.5L1015.0 697.4L1016.0 679.1L1017.0 660.8L1018.0 642.6L1019.0 624.4L1020.0 606.3L1021.0 588.5L1022.0 570.9L1023.0 553.6L1024.0 536.7L1025.0 520.2L1026.0 504.3L1027.0 488.8L1028.0 474.0L1029.0 459.9L1030.0 446.5L1031.0 433.8L1032.0 422.1L1033.0 411.2L1034.0 401.3L1035.0 392.4L1036.0 384.6L1037.0 378.0L1038.0 372.5L1039.0 379.5L1040.0 388.3L1041.0 398.9L1042.0 411.2L1043.0 425.0L1044.0 440.1L1045.0 456.6L1046.0 474.2L1047.0 492.8L1048.0 512.4L1049.0 532.7L1050.0 553.8L1051.0 575.4L1052.0 597.5L1053.0 619.9L1054.0 642.6L1055.0 665.3L1056.0 688.0L1057.0 710.6L1058.0 732.9L1059.0 754.8L1060.0 776.2L1061.0 797.0L1062.0 817.1L1063.0 836.3L1064.0 854.5L1065.0 871.7L1066.0 887.6L1067.0 902.2L1068.0 915.4L1069.0 927.0L1070.0 936.9L1071.0 945.0L1072.0 946.6L1073.0 939.6L1074.0 931.2L1075.0 921.5L1076.0 910.5L1077.0 898.3L1078.0 885.0L1079.0 870.6L1080.0 855.3L1081.0 839.1L1082.0 822.0L1083.0 804.2L1084.0 785.7L1085.0 766.6L1086.0 746.9L1087.0 726.8L1088.0 706.2L1089.0 685.4L1090.0 664.3L1091.0 643.0L1092.0 621.6L1093.0 600.2L1094.0 578.9L1095.0 557.6L1096.0 536.5L1097.0 515.7L1098.0 495.2L1099.0 475.1L1100.0 455.5L1101.0 436.4L1102.0 418.0L1103.0 400.2L1104.0 383.3L1105.0 367.1L1106.0 351.9L1107.0 337.6L1108.0 324.4L1109.0 312.3L1110.0 301.5L1111.0 291.9L1112.0 283.6L1113.0 276.8L1114.0 280.5L1115.0 290.4L1116.0 302.6L1117.0 316.8L1118.0 333.0L1119.0 350.9L1120.0 370.4L1121.0 391.3L1122.0 413.5L1123.0 436.9L1124.0 461.1L1125.0 486.1L1126.0 511.7L1127.0 537.8L1128.0 564.1L1129.0 590.5L1130.0 616.9L1131.0 643.0L1132.0 668.8L1133.0 694.0L1134.0 718.5L1135.0 742.1L1136.0 764.6L1137.0 786.0L1138.0 805.9L1139.0 824.3L1140.0 841.1L1141.0 855.9L1142.0 868.7L1143.0 879.3L1144.0 887.5L1145.0 881.2L1146.0 873.3L1147.0 863.9L1148.0 853.1L1149.0 841.0L1150.0 827.6L1151.0 813.2L1152.0 797.7L1153.0 781.3L1154.0 764.0L1155.0 746.0L1156.0 727.3L1157.0 708.0L1158.0 688.2L1159.0 668.0L1160.0 647.5L1161.0 626.9L1162.0 606.0L1163.0 585.2L1164.0 564.4L1165.0 543.8L1166.0 523.4L1167.0 503.3L1168.0 483.7L1169.0 464.6L1170.0 446.0L1171.0 428.2L1172.0 411.2L1173.0 395.0L1174.0 379.9L1175.0 365.7L1176.0 352.8L1177.0 341.1L1178.0 330.7L1179.0 321.7L1180.0 314.3L1181.0 311.9L1182.0 319.7L1183.0 329.6L1184.0 341.3L1185.0 354.9L1186.0 370.0L1187.0 386.6L1188.0 404.5L1189.0 423.5L1190.0 443.6L1191.0 464.5L1192.0 486.0L1193.0 508.2L1194.0 530.7L1195.0 553.4L1196.0 576.3L1197.0 599.0L1198.0 621.6L1199.0 643.8L1200.0 665.4L1201.0 686.4L1202.0 706.5L1203.0 725.7L1204.0 743.7L1205.0 760.4L1206.0 775.7L1207.0 789.4L1208.0 801.4L1209.0 811.4L1210.0 819.4L1211.0 818.5L1212.0 811.0L1213.0 801.9L1214.0 791.0L1215.0 778.7L1216.0 765.0L1217.0 750.0L1218.0 733.9L1219.0 716.9L1220.0 699.0L1221.0 680.5L1222.0 661.3L1223.0 641.7L1224.0 621.8L1225.0 601.8L1226.0 581.7L1227.0 561.7L1228.0 541.9L1229.0 522.6L1230.0 503.7L1231.0 485.4L1232.0 468.0L1233.0 451.4L1234.0 435.9L1235.0 421.5L1236.0 408.5L1237.0 396.9L1238.0 386.8L1239.0 378.5L1240.0 372.0L1241.0 378.2L1242.0 388.1L1243.0 400.4L1244.0 414.7L1245.0 430.9L1246.0 448.8L1247.0 468.2L1248.0 488.9L1249.0 510.6L1250.0 533.1L1251.0 556.3L1252.0 579.9L1253.0 603.8L1254.0 627.6L1255.0 651.2L1256.0 674.4L1257.0 696.9L1258.0 718.6L1259.0 739.3L1260.0 758.7L1261.0 776.6L1262.0 792.8L1263.0 807.1L1264.0 819.4L1265.0 829.3L1266.0 835.6L1267.0 831.4L1268.0 826.1L1269.0 819.7L1270.0 812.3L1271.0 804.1L1272.0 795.1L1273.0 785.3L1274.0 774.8L1275.0 763.7L1276.0 752.1L1277.0 740.0L1278.0 727.5L1279.0 714.7L1280.0 701.6L1281.0 688.3L1282.0 674.9L1283.0 661.5L1284.0 648.0L1285.0 634.7L1286.0 621.5L1287.0 608.6L1288.0 596.0L1289.0 583.7L1290.0 571.9L1291.0 560.6L1292.0 549.8L1293.0 539.8L1294.0 530.4L1295.0 521.8L1296.0 514.1L1297.0 507.4L1298.0 501.6L1299.0 496.9L1300.0 497.9L1301.0 505.3L1302.0 514.7L1303.0 526.0L1304.0 539.0L1305.0 553.4L1306.0 569.1L1307.0 586.0L1308.0 603.7L1309.0 622.3L1310.0 641.4L1311.0 660.8L1312.0 680.5L1313.0 700.3L1314.0 719.8L1315.0 739.1L1316.0 757.8L1317.0 775.8L1318.0 792.9L1319.0 809.0L1320.0 823.9L1321.0 837.3L1322.0 849.1L1323.0 859.1L1324.0 867.1L1325.0 871.6L1326.0 868.7L1327.0 864.8L1328.0 859.9L1329.0 854.3L1330.0 848.1L1331.0 841.4L1332.0 834.6L1333.0 827.7L1334.0 820.8L1335.0 814.3L1336.0 808.0L1337.0 800.6L1338.0 792.7L1339.0 785.5L1340.0 780.0L1341.0 778.4L1342.0 779.7L1343.0 781.6L1344.0 784.0L1345.0 786.6L1346.0 789.4L1347.0 792.3L1348.0 795.7L1349.0 800.8L1350.0 806.7L1351.0 812.2L1352.0 816.3L1353.0 817.0L1354.0 815.4L1355.0 813.1L1356.0 810.5L1357.0 807.4L1358.0 804.2L1359.0 800.9L1360.0 797.7L1361.0 794.8L1362.0 792.1L1363.0 789.9L1364.0 788.4L1365.0 788.6L1366.0 790.1L1367.0 792.2L1368.0 794.8L1369.0 797.7L1370.0 802.0L1371.0 811.9L1372.0 822.3L1373.0 827.5L1374.0 830.0L1375.0 832.1L1376.0 833.9L1377.0 835.8L1378.0 838.0L1379.0 840.5L1380.0 843.3L1381.0 847.0L1382.0 862.6L1383.0 883.1L1384.0 898.7L1385.0 911.2L1386.0 922.6L1387.0 932.2L1388.0 939.6L1389.0 946.9L1390.0 956.0L1391.0 977.8L1392.0 998.0L1393.0 1003.3L1394.0 1007.5L1395.0 1010.8L1396.0 1013.8L1397.0 1016.7L1398.0 1020.0L1399.0 1024.0L1400.0 1030.5L1401.0 1038.4L1402.0 1047.0L1403.0 1056.1L1404.0 1065.0L1405.0 1073.3L1406.0 1080.5L1407.0 1086.3L1408.0 1090.0L1409.0 1088.4L1410.0 1086.3L1411.0 1083.6L1412.0 1080.6L1413.0 1077.0L1414.0 1073.1L1415.0 1068.6L1416.0 1063.8L1417.0 1058.6L1418.0 1053.0L1419.0 1047.0L1420.0 1028.9L1421.0 1005.9L1422.0 991.0L1423.0 993.6L1424.0 998.0L1425.0 1003.0L1426.0 1007.4L1427.0 1010.0L1428.0 1009.4L1429.0 1008.4L1430.0 1007.2L1431.0 1005.8L1432.0 1004.6L1433.0 1003.6L1434.0 1003.0L1435.0 1008.7L1436.0 1018.0L1437.0 1028.0L1438.0 1039.1L1439.0 1051.0L1440.0 1063.6L1441.0 1077.0L1442.0 1095.4L1443.0 1116.3L1444.0 1135.6L1445.0 1149.0L1446.0 1152.2L1447.0 1154.6L1448.0 1156.6L1449.0 1158.5L1450.0 1160.5L1451.0 1163.0L1452.0 1166.7L1453.0 1170.9L1454.0 1175.2L1455.0 1179.9L1456.0 1184.6L1457.0 1189.4L1458.0 1194.2L1459.0 1199.0L1460.0 1204.3L1461.0 1210.3L1462.0 1216.5L1463.0 1222.6L1464.0 1228.4L1465.0 1233.4L1466.0 1237.4L1467.0 1240.0L1468.0 1237.4L1469.0 1233.5L1470.0 1228.5L1471.0 1222.6L1472.0 1216.1L1473.0 1209.2L1474.0 1202.0L1475.0 1194.8L1476.0 1187.9L1477.0 1181.4L1478.0 1175.5L1479.0 1170.5L1480.0 1166.6L1481.0 1164.0L1482.0 1166.8L1483.0 1171.0L1484.0 1176.4L1485.0 1182.6L1486.0 1189.2L1487.0 1195.9L1488.0 1202.3L1489.0 1208.0L1490.0 1213.7L1491.0 1219.7L1492.0 1224.9L1493.0 1228.0L1494.0 1228.0L1495.0 1228.0L1496.0 1228.0L1497.0 1228.0L1498.0 1228.0L1499.0 1228.0L1500.0 1228.0L1501.0 1228.0L1502.0 1228.0L1503.0 1228.0L1504.0 1228.0L1505.0 1228.0L1506.0 1228.0L1507.0 1228.0L1508.0 1236.7L1509.0 1248.0L1510.0 1255.5L1511.0 1262.6L1512.0 1269.4L1513.0 1275.9L1514.0 1282.1L1515.0 1288.0L1516.0 1293.3L1517.0 1298.8L1518.0 1304.1L1519.0 1308.9L1520.0 1312.6L1521.0 1315.0L1522.0 1313.1L1523.0 1310.2L1524.0 1306.4L1525.0 1302.1L1526.0 1297.5L1527.0 1292.9L1528.0 1288.6L1529.0 1284.8L1530.0 1281.9L1531.0 1280.0L1532.0 1280.6L1533.0 1281.5L1534.0 1282.6L1535.0 1283.8L1536.0 1285.3L1537.0 1286.8L1538.0 1288.5L1539.0 1290.3L1540.0 1292.1L1541.0 1294.0L1542.0 1297.4L1543.0 1301.6L1544.0 1306.4L1545.0 1311.5L1546.0 1316.6L1547.0 1321.6L1548.0 1326.1L1549.0 1330.0L1550.0 1333.0L1551.0 1334.1L1552.0 1335.3L1553.0 1336.3L1554.0 1337.4L1555.0 1338.4L1556.0 1339.4L1557.0 1340.4L1558.0 1341.3L1559.0 1342.2L1560.0 1343.0L1561.0 1343.9L1562.0 1344.7L1563.0 1345.4L1564.0 1346.2L1565.0 1346.9L1566.0 1347.6L1567.0 1348.2L1568.0 1348.8L1569.0 1349.4L1570.0 1349.9L1571.0 1350.4L1572.0 1350.9L1573.0 1351.3L1574.0 1351.7L1575.0 1352.1L1576.0 1352.4L1577.0 1352.7L1578.0 1353.0L1579.0 1352.6L1580.0 1352.0L1581.0 1351.4L1582.0 1351.0L1583.0 1351.8L1584.0 1353.0L1585.0 1354.4L1586.0 1356.1L1587.0 1357.9L1588.0 1360.0L1589.0 1362.1L1590.0 1364.4L1591.0 1366.7L1592.0 1368.9L1593.0 1371.1L1594.0 1373.3L1595.0 1375.3L1596.0 1377.1L1597.0 1378.7L1598.0 1380.0L1599.0 1380.7L1600.0 1381.4L1601.0 1382.1L1602.0 1382.7L1603.0 1383.3L1604.0 1383.9L1605.0 1384.5L1606.0 1385.0L1607.0 1385.6L1608.0 1386.1L1609.0 1386.6L1610.0 1387.0L1611.0 1387.5L1612.0 1388.0L1613.0 1388.4L1614.0 1388.9L1615.0 1389.3L1616.0 1389.8L1617.0 1390.2L1618.0 1390.6L1619.0 1391.1L1620.0 1391.5L1621.0 1391.9L1622.0 1392.4L1623.0 1392.8L1624.0 1393.3L1625.0 1393.8L1626.0 1394.3L1627.0 1394.8L1628.0 1395.3L1629.0 1395.9L1630.0 1396.4L1631.0 1397.0L1632.0 1397.7L1633.0 1398.5L1634.0 1399.4L1635.0 1400.2L1636.0 1401.1L1637.0 1402.0L1638.0 1402.9L1639.0 1403.8L1640.0 1404.6L1641.0 1405.3L1642.0 1406.0L1643.0 1406.5L1644.0 1407.0L1645.0 1407.2L1646.0 1407.3L1647.0 1407.5L1648.0 1407.6L1649.0 1407.7L1650.0 1407.9L1651.0 1408.0L1652.0 1408.1L1653.0 1408.2L1654.0 1408.4L1655.0 1408.5L1656.0 1408.6L1657.0 1408.7L1658.0 1408.8L1659.0 1408.9L1660.0 1409.0L1661.0 1409.1L1662.0 1409.2L1663.0 1409.3L1664.0 1409.3L1665.0 1409.4L1666.0 1409.5L1667.0 1409.6L1668.0 1409.7L1669.0 1409.7L1670.0 1409.8L1671.0 1409.9L1672.0 1410.0L1673.0 1410.0L1674.0 1410.1L1675.0 1410.2L1676.0 1410.2L1677.0 1410.3L1678.0 1410.4L1679.0 1410.5L1680.0 1410.5L1681.0 1410.6L1682.0 1410.7L1683.0 1410.8L1684.0 1410.8L1685.0 1410.9L1686.0 1411.0L1687.0 1411.1L1688.0 1411.1L1689.0 1411.2L1690.0 1411.3L1691.0 1411.3L1692.0 1411.4L1693.0 1411.5L1694.0 1411.6L1695.0 1411.6L1696.0 1411.7L1697.0 1411.8L1698.0 1411.8L1699.0 1411.9L1700.0 1412.0L1701.0 1412.1L1702.0 1412.1L1703.0 1412.2L1704.0 1412.3L1705.0 1412.3L1706.0 1412.4L1707.0 1412.5L1708.0 1412.5L1709.0 1412.6L1710.0 1412.7L1711.0 1412.7L1712.0 1412.8L1713.0 1412.8L1714.0 1412.9L1715.0 1413.0L1716.0 1413.0L1717.0 1413.1L1718.0 1413.1L1719.0 1413.2L1720.0 1413.2L1721.0 1413.2L1722.0 1413.3L1723.0 1413.3L1724.0 1413.4L1725.0 1413.4L1726.0 1413.4L1727.0 1413.5L1728.0 1413.5L1729.0 1413.5L1730.0 1413.5L1731.0 1413.5L1732.0 1413.5L1733.0 1413.5L1734.0 1413.5L1735.0 1413.6L1736.0 1413.6L1737.0 1413.6L1738.0 1413.6L1739.0 1413.6L1740.0 1413.6L1741.0 1413.6L1742.0 1413.6L1743.0 1413.6L1744.0 1413.6L1745.0 1413.6L1746.0 1413.6L1747.0 1413.6L1748.0 1413.6L1749.0 1413.7L1750.0 1413.7L1751.0 1413.7L1752.0 1413.7L1753.0 1413.7L1754.0 1413.7L1755.0 1413.7L1756.0 1413.7L1757.0 1413.7L1758.0 1413.7L1759.0 1413.7L1760.0 1413.7L1761.0 1413.7L1762.0 1413.7L1763.0 1413.7L1764.0 1413.8L1765.0 1413.8L1766.0 1413.8L1767.0 1413.8L1768.0 1413.8L1769.0 1413.8L1770.0 1413.8L1771.0 1413.8L1772.0 1413.8L1773.0 1413.8L1774.0 1413.8L1775.0 1413.8L1776.0 1413.8L1777.0 1413.8L1778.0 1413.8L1779.0 1413.8L1780.0 1413.9L1781.0 1413.9L1782.0 1413.9L1783.0 1413.9L1784.0 1413.9L1785.0 1413.9L1786.0 1413.9L1787.0 1413.9L1788.0 1413.9L1789.0 1413.9L1790.0 1413.9L1791.0 1413.9L1792.0 1413.9L1793.0 1413.9L1794.0 1413.9L1795.0 1413.9L1796.0 1413.9L1797.0 1414.0L1798.0 1414.0L1799.0 1414.0L1800.0 1414.0L1801.0 1414.0L1802.0 1414.0L1803.0 1414.0L1804.0 1414.0L1805.0 1414.0L1806.0 1414.0L1807.0 1414.0L1808.0 1414.0L1809.0 1414.0L1810.0 1414.0L1811.0 1414.0L1812.0 1414.0L1813.0 1414.0L1814.0 1414.0L1815.0 1414.0L1816.0 1414.0L1817.0 1414.1L1818.0 1414.1L1819.0 1414.1L1820.0 1414.1L1821.0 1414.1L1822.0 1414.1L1823.0 1414.1L1824.0 1414.1L1825.0 1414.1L1826.0 1414.1L1827.0 1414.1L1828.0 1414.1L1829.0 1414.1L1830.0 1414.1L1831.0 1414.1L1832.0 1414.1L1833.0 1414.1L1834.0 1414.1L1835.0 1414.1L1836.0 1414.1L1837.0 1414.1L1838.0 1414.1L1839.0 1414.2L1840.0 1414.2L1841.0 1414.2L1842.0 1414.2L1843.0 1414.2L1844.0 1414.2L1845.0 1414.2L1846.0 1414.2L1847.0 1414.2L1848.0 1414.2L1849.0 1414.2L1850.0 1414.2L1851.0 1414.2L1852.0 1414.2L1853.0 1414.2L1854.0 1414.2L1855.0 1414.2L1856.0 1414.2L1857.0 1414.2L1858.0 1414.2L1859.0 1414.2L1860.0 1414.2L1861.0 1414.2L1862.0 1414.2L1863.0 1414.2L1864.0 1414.2L1865.0 1414.3L1866.0 1414.3L1867.0 1414.3L1868.0 1414.3L1869.0 1414.3L1870.0 1414.3L1871.0 1414.3L1872.0 1414.3L1873.0 1414.3L1874.0 1414.3L1875.0 1414.3L1876.0 1414.3L1877.0 1414.3L1878.0 1414.3L1879.0 1414.3L1880.0 1414.3L1881.0 1414.3L1882.0 1414.3L1883.0 1414.3L1884.0 1414.3L1885.0 1414.3L1886.0 1414.3L1887.0 1414.3L1888.0 1414.3L1889.0 1414.3L1890.0 1414.3L1891.0 1414.3L1892.0 1414.3L1893.0 1414.3L1894.0 1414.3L1895.0 1414.3L1896.0 1414.3L1897.0 1414.4L1898.0 1414.4L1899.0 1414.4L1900.0 1414.4L1901.0 1414.4L1902.0 1414.4L1903.0 1414.4L1904.0 1414.4L1905.0 1414.4L1906.0 1414.4L1907.0 1414.4L1908.0 1414.4L1909.0 1414.4L1910.0 1414.4L1911.0 1414.4L1912.0 1414.4L1913.0 1414.4L1914.0 1414.4L1915.0 1414.4L1916.0 1414.4L1917.0 1414.4L1918.0 1414.4L1919.0 1414.4L1920.0 1414.4L1921.0 1414.4L1922.0 1414.4L1923.0 1414.4L1924.0 1414.4L1925.0 1414.4L1926.0 1414.4L1927.0 1414.4L1928.0 1414.4L1929.0 1414.4L1930.0 1414.4L1931.0 1414.4L1932.0 1414.4L1933.0 1414.4L1934.0 1414.4L1935.0 1414.4L1936.0 1414.4L1937.0 1414.4L1938.0 1414.4L1939.0 1414.4L1940.0 1414.5L1941.0 1414.5L1942.0 1414.5L1943.0 1414.5L1944.0 1414.5L1945.0 1414.5L1946.0 1414.5L1947.0 1414.5L1948.0 1414.5L1949.0 1414.5L1950.0 1414.5L1951.0 1414.5L1952.0 1414.5L1953.0 1414.5L1954.0 1414.5L1955.0 1414.5L1956.0 1414.5L1957.0 1414.5L1958.0 1414.5L1959.0 1414.5L1960.0 1414.5L1961.0 1414.5L1962.0 1414.5L1963.0 1414.5L1964.0 1414.5L1965.0 1414.5L1966.0 1414.5L1967.0 1414.5L1968.0 1414.5L1969.0 1414.5" stroke="#025a96" stroke-width="6.4"/>
<path d="M319.0 1417.0L320.0 1417.0L321.0 1417.0L322.0 1417.0L323.0 1417.0L324.0 1417.0L325.0 1417.0L326.0 1417.0L327.0 1417.0L328.0 1417.0L329.0 1417.0L330.0 1417.0L331.0 1417.0L332.0 1417.0L333.0 1417.0L334.0 1417.0L335.0 1417.0L336.0 1417.0L337.0 1417.0L338.0 1417.0L339.0 1417.0L340.0 1417.0L341.0 1417.0L342.0 1417.0L343.0 1417.0L344.0 1417.0L345.0 1417.0L346.0 1417.0L347.0 1417.0L348.0 1417.0L349.0 1417.0L350.0 1417.0L351.0 1417.0L352.0 1417.0L353.0 1417.0L354.0 1416.9L355.0 1416.9L356.0 1416.9L357.0 1416.9L358.0 1416.9L359.0 1416.9L360.0 1416.9L361.0 1416.9L362.0 1416.9L363.0 1416.9L364.0 1416.9L365.0 1416.9L366.0 1416.9L367.0 1416.9L368.0 1416.9L369.0 1416.9L370.0 1416.9L371.0 1416.9L372.0 1416.9L373.0 1416.9L374.0 1416.9L375.0 1416.9L376.0 1416.9L377.0 1416.9L378.0 1416.9L379.0 1416.9L380.0 1416.9L381.0 1416.9L382.0 1416.9L383.0 1416.9L384.0 1416.9L385.0 1416.9L386.0 1416.9L387.0 1416.9L388.0 1416.9L389.0 1416.9L390.0 1416.9L391.0 1416.9L392.0 1416.9L393.0 1416.9L394.0 1416.9L395.0 1416.9L396.0 1416.8L397.0 1416.8L398.0 1416.8L399.0 1416.8L400.0 1416.8L401.0 1416.8L402.0 1416.8L403.0 1416.8L404.0 1416.8L405.0 1416.8L406.0 1416.8L407.0 1416.8L408.0 1416.8L409.0 1416.8L410.0 1416.8L411.0 1416.8L412.0 1416.8L413.0 1416.8L414.0 1416.8L415.0 1416.8L416.0 1416.8L417.0 1416.8L418.0 1416.8L419.0 1416.8L420.0 1416.8L421.0 1416.8L422.0 1416.8L423.0 1416.8L424.0 1416.7L425.0 1416.7L426.0 1416.7L427.0 1416.7L428.0 1416.7L429.0 1416.7L430.0 1416.7L431.0 1416.7L432.0 1416.7L433.0 1416.7L434.0 1416.7L435.0 1416.7L436.0 1416.7L437.0 1416.7L438.0 1416.7L439.0 1416.7L440.0 1416.7L441.0 1416.7L442.0 1416.7L443.0 1416.7L444.0 1416.7L445.0 1416.6L446.0 1416.6L447.0 1416.6L448.0 1416.6L449.0 1416.6L450.0 1416.6L451.0 1416.6L452.0 1416.6L453.0 1416.6L454.0 1416.6L455.0 1416.6L456.0 1416.6L457.0 1416.6L458.0 1416.6L459.0 1416.6L460.0 1416.6L461.0 1416.6L462.0 1416.6L463.0 1416.5L464.0 1416.5L465.0 1416.5L466.0 1416.5L467.0 1416.5L468.0 1416.5L469.0 1416.5L470.0 1416.5L471.0 1416.4L472.0 1416.2L473.0 1416.0L474.0 1415.8L475.0 1415.6L476.0 1415.3L477.0 1415.0L478.0 1414.7L479.0 1414.4L480.0 1414.1L481.0 1413.7L482.0 1413.3L483.0 1413.0L484.0 1412.6L485.0 1412.2L486.0 1411.9L487.0 1411.5L488.0 1411.1L489.0 1410.8L490.0 1410.4L491.0 1410.1L492.0 1409.8L493.0 1409.4L494.0 1409.2L495.0 1408.9L496.0 1408.7L497.0 1408.5L498.0 1408.3L499.0 1408.1L500.0 1408.0L501.0 1408.0L502.0 1408.0L503.0 1408.0L504.0 1408.0L505.0 1408.0L506.0 1408.0L507.0 1408.0L508.0 1408.0L509.0 1408.0L510.0 1408.0L511.0 1408.0L512.0 1408.0L513.0 1408.0L514.0 1408.0L515.0 1408.0L516.0 1408.0L517.0 1408.0L518.0 1408.0L519.0 1408.0L520.0 1408.0L521.0 1408.0L522.0 1408.0L523.0 1408.0L524.0 1408.0L525.0 1408.0L526.0 1408.0L527.0 1408.0L528.0 1408.0L529.0 1408.0L530.0 1408.0L531.0 1408.2L532.0 1408.6L533.0 1409.0L534.0 1409.5L535.0 1410.0L536.0 1410.5L537.0 1411.0L538.0 1411.4L539.0 1411.8L540.0 1412.0L541.0 1411.8L542.0 1411.5L543.0 1411.3L544.0 1410.9L545.0 1410.6L546.0 1410.2L547.0 1409.7L548.0 1409.3L549.0 1408.8L550.0 1408.2L551.0 1407.7L552.0 1407.1L553.0 1406.5L554.0 1405.9L555.0 1405.3L556.0 1404.7L557.0 1404.0L558.0 1403.4L559.0 1402.7L560.0 1402.0L561.0 1401.3L562.0 1400.7L563.0 1400.0L564.0 1399.0L565.0 1398.0L566.0 1396.9L567.0 1395.8L568.0 1394.6L569.0 1393.4L570.0 1392.1L571.0 1390.8L572.0 1389.5L573.0 1388.1L574.0 1386.8L575.0 1385.4L576.0 1384.1L577.0 1382.7L578.0 1381.3L579.0 1380.0L580.0 1378.5L581.0 1377.0L582.0 1375.5L583.0 1373.9L584.0 1372.2L585.0 1370.6L586.0 1369.0L587.0 1367.4L588.0 1365.9L589.0 1364.4L590.0 1363.0L591.0 1361.6L592.0 1360.5L593.0 1359.5L594.0 1358.5L595.0 1357.5L596.0 1356.6L597.0 1355.6L598.0 1354.7L599.0 1353.8L600.0 1353.0L601.0 1352.2L602.0 1351.4L603.0 1350.7L604.0 1350.0L605.0 1349.3L606.0 1348.9L607.0 1348.5L608.0 1348.1L609.0 1347.8L610.0 1347.5L611.0 1347.2L612.0 1346.9L613.0 1346.6L614.0 1346.4L615.0 1346.2L616.0 1346.1L617.0 1346.1L618.0 1346.4L619.0 1346.8L620.0 1347.3L621.0 1347.8L622.0 1348.4L623.0 1349.0L624.0 1349.7L625.0 1350.4L626.0 1351.0L627.0 1351.7L628.0 1352.5L629.0 1353.5L630.0 1354.6L631.0 1355.7L632.0 1356.9L633.0 1358.1L634.0 1359.3L635.0 1360.5L636.0 1361.7L637.0 1362.9L638.0 1364.0L639.0 1365.0L640.0 1366.0L641.0 1366.8L642.0 1367.6L643.0 1368.4L644.0 1369.1L645.0 1369.9L646.0 1370.7L647.0 1371.4L648.0 1372.1L649.0 1372.8L650.0 1373.4L651.0 1373.9L652.0 1374.4L653.0 1374.7L654.0 1375.0L655.0 1374.9L656.0 1374.7L657.0 1374.5L658.0 1374.3L659.0 1374.1L660.0 1373.8L661.0 1373.5L662.0 1373.1L663.0 1372.8L664.0 1372.4L665.0 1372.0L666.0 1371.0L667.0 1369.9L668.0 1368.6L669.0 1367.2L670.0 1365.6L671.0 1364.0L672.0 1362.2L673.0 1360.4L674.0 1358.5L675.0 1356.6L676.0 1354.7L677.0 1352.8L678.0 1350.6L679.0 1348.2L680.0 1345.7L681.0 1343.1L682.0 1340.4L683.0 1337.7L684.0 1334.9L685.0 1332.0L686.0 1329.0L687.0 1325.9L688.0 1322.7L689.0 1319.4L690.0 1316.0L691.0 1311.6L692.0 1306.8L693.0 1301.7L694.0 1296.5L695.0 1291.1L696.0 1285.6L697.0 1280.0L698.0 1274.5L699.0 1269.0L700.0 1263.2L701.0 1257.2L702.0 1251.0L703.0 1244.8L704.0 1238.7L705.0 1232.8L706.0 1227.2L707.0 1222.0L708.0 1217.8L709.0 1213.6L710.0 1209.3L711.0 1205.2L712.0 1201.1L713.0 1197.3L714.0 1193.7L715.0 1190.4L716.0 1187.5L717.0 1185.0L718.0 1183.0L719.0 1182.3L720.0 1181.7L721.0 1181.2L722.0 1180.7L723.0 1180.3L724.0 1180.1L725.0 1181.0L726.0 1182.8L727.0 1185.0L728.0 1187.5L729.0 1190.3L730.0 1193.4L731.0 1196.8L732.0 1200.4L733.0 1204.3L734.0 1208.4L735.0 1212.6L736.0 1217.1L737.0 1221.7L738.0 1226.4L739.0 1231.2L740.0 1236.2L741.0 1241.2L742.0 1246.2L743.0 1251.2L744.0 1256.3L745.0 1261.3L746.0 1266.3L747.0 1271.3L748.0 1276.1L749.0 1280.9L750.0 1285.5L751.0 1290.0L752.0 1294.4L753.0 1298.5L754.0 1302.4L755.0 1306.2L756.0 1309.6L757.0 1312.8L758.0 1315.7L759.0 1318.3L760.0 1320.6L761.0 1322.5L762.0 1324.0L763.0 1320.9L764.0 1317.2L765.0 1313.0L766.0 1308.3L767.0 1303.0L768.0 1297.3L769.0 1291.1L770.0 1284.5L771.0 1277.4L772.0 1270.0L773.0 1262.2L774.0 1254.0L775.0 1245.5L776.0 1236.8L777.0 1227.7L778.0 1218.4L779.0 1208.9L780.0 1199.1L781.0 1189.2L782.0 1179.1L783.0 1168.9L784.0 1158.6L785.0 1148.1L786.0 1137.6L787.0 1127.1L788.0 1116.5L789.0 1105.9L790.0 1095.4L791.0 1084.9L792.0 1074.4L793.0 1064.1L794.0 1053.9L795.0 1043.8L796.0 1033.9L797.0 1024.1L798.0 1014.6L799.0 1005.3L800.0 996.2L801.0 987.5L802.0 979.0L803.0 970.8L804.0 963.0L805.0 955.6L806.0 948.5L807.0 941.9L808.0 935.7L809.0 930.0L810.0 924.7L811.0 920.0L812.0 915.8L813.0 912.1L814.0 909.0L815.0 912.4L816.0 916.7L817.0 921.8L818.0 927.7L819.0 934.2L820.0 941.4L821.0 949.3L822.0 957.7L823.0 966.6L824.0 975.9L825.0 985.7L826.0 995.9L827.0 1006.3L828.0 1017.0L829.0 1028.0L830.0 1039.1L831.0 1050.3L832.0 1061.5L833.0 1072.8L834.0 1084.1L835.0 1095.3L836.0 1106.3L837.0 1117.2L838.0 1127.9L839.0 1138.2L840.0 1148.3L841.0 1157.9L842.0 1167.2L843.0 1175.9L844.0 1184.1L845.0 1191.8L846.0 1198.8L847.0 1205.2L848.0 1210.8L849.0 1215.7L850.0 1219.7L851.0 1220.9L852.0 1216.8L853.0 1212.0L854.0 1206.6L855.0 1200.4L856.0 1193.7L857.0 1186.4L858.0 1178.5L859.0 1170.1L860.0 1161.1L861.0 1151.7L862.0 1141.8L863.0 1131.6L864.0 1120.9L865.0 1109.8L866.0 1098.4L867.0 1086.7L868.0 1074.7L869.0 1062.5L870.0 1050.0L871.0 1037.4L872.0 1024.5L873.0 1011.5L874.0 998.4L875.0 985.2L876.0 972.0L877.0 958.7L878.0 945.4L879.0 932.1L880.0 918.9L881.0 905.7L882.0 892.7L883.0 879.8L884.0 867.0L885.0 854.5L886.0 842.1L887.0 830.0L888.0 818.2L889.0 806.7L890.0 795.5L891.0 784.7L892.0 774.2L893.0 764.2L894.0 754.6L895.0 745.5L896.0 736.8L897.0 728.7L898.0 721.2L899.0 714.2L900.0 707.8L901.0 702.1L902.0 697.0L903.0 692.6L904.0 691.1L905.0 695.4L906.0 700.6L907.0 706.7L908.0 713.7L909.0 721.5L910.0 730.0L911.0 739.2L912.0 749.0L913.0 759.4L914.0 770.3L915.0 781.7L916.0 793.5L917.0 805.7L918.0 818.1L919.0 830.8L920.0 843.7L921.0 856.8L922.0 869.9L923.0 883.1L924.0 896.3L925.0 909.4L926.0 922.3L927.0 935.1L928.0 947.6L929.0 959.9L930.0 971.8L931.0 983.3L932.0 994.4L933.0 1004.9L934.0 1014.9L935.0 1024.3L936.0 1033.0L937.0 1041.0L938.0 1048.3L939.0 1054.6L940.0 1060.2L941.0 1064.7L942.0 1065.2L943.0 1059.9L944.0 1053.6L945.0 1046.5L946.0 1038.5L947.0 1029.6L948.0 1019.9L949.0 1009.5L950.0 998.4L951.0 986.7L952.0 974.3L953.0 961.3L954.0 947.8L955.0 933.8L956.0 919.4L957.0 904.5L958.0 889.3L959.0 873.8L960.0 858.0L961.0 841.9L962.0 825.7L963.0 809.3L964.0 792.8L965.0 776.3L966.0 759.7L967.0 743.2L968.0 726.7L969.0 710.3L970.0 694.1L971.0 678.0L972.0 662.2L973.0 646.7L974.0 631.5L975.0 616.6L976.0 602.2L977.0 588.2L978.0 574.7L979.0 561.7L980.0 549.3L981.0 537.6L982.0 526.5L983.0 516.1L984.0 506.4L985.0 497.5L986.0 489.5L987.0 482.4L988.0 476.1L989.0 470.8L990.0 472.5L991.0 479.6L992.0 488.2L993.0 498.4L994.0 509.9L995.0 522.7L996.0 536.6L997.0 551.6L998.0 567.5L999.0 584.3L1000.0 601.9L1001.0 620.1L1002.0 638.8L1003.0 658.0L1004.0 677.5L1005.0 697.2L1006.0 717.0L1007.0 736.9L1008.0 756.7L1009.0 776.3L1010.0 795.6L1011.0 814.5L1012.0 832.9L1013.0 850.7L1014.0 867.8L1015.0 884.1L1016.0 899.5L1017.0 913.9L1018.0 927.1L1019.0 939.2L1020.0 949.9L1021.0 959.2L1022.0 966.9L1023.0 973.0L1024.0 966.1L1025.0 957.7L1026.0 947.8L1027.0 936.6L1028.0 924.0L1029.0 910.1L1030.0 895.1L1031.0 879.0L1032.0 862.0L1033.0 844.0L1034.0 825.1L1035.0 805.5L1036.0 785.2L1037.0 764.3L1038.0 742.9L1039.0 721.0L1040.0 698.8L1041.0 676.3L1042.0 653.5L1043.0 630.6L1044.0 607.7L1045.0 584.8L1046.0 562.1L1047.0 539.5L1048.0 517.1L1049.0 495.1L1050.0 473.6L1051.0 452.5L1052.0 432.0L1053.0 412.2L1054.0 393.1L1055.0 374.9L1056.0 357.5L1057.0 341.1L1058.0 325.8L1059.0 311.6L1060.0 298.6L1061.0 286.9L1062.0 276.6L1063.0 267.7L1064.0 260.4L1065.0 263.7L1066.0 272.8L1067.0 283.8L1068.0 296.6L1069.0 311.0L1070.0 327.0L1071.0 344.5L1072.0 363.2L1073.0 383.2L1074.0 404.2L1075.0 426.1L1076.0 448.9L1077.0 472.3L1078.0 496.4L1079.0 520.9L1080.0 545.8L1081.0 570.8L1082.0 596.0L1083.0 621.2L1084.0 646.2L1085.0 671.0L1086.0 695.4L1087.0 719.3L1088.0 742.5L1089.0 765.1L1090.0 786.7L1091.0 807.4L1092.0 827.0L1093.0 845.4L1094.0 862.4L1095.0 878.0L1096.0 891.9L1097.0 904.2L1098.0 914.7L1099.0 923.2L1100.0 922.1L1101.0 914.5L1102.0 905.4L1103.0 894.9L1104.0 883.0L1105.0 869.9L1106.0 855.7L1107.0 840.4L1108.0 824.0L1109.0 806.8L1110.0 788.6L1111.0 769.7L1112.0 750.1L1113.0 729.9L1114.0 709.1L1115.0 687.8L1116.0 666.1L1117.0 644.1L1118.0 621.9L1119.0 599.5L1120.0 577.0L1121.0 554.5L1122.0 532.0L1123.0 509.7L1124.0 487.6L1125.0 465.8L1126.0 444.4L1127.0 423.4L1128.0 402.9L1129.0 383.0L1130.0 363.8L1131.0 345.4L1132.0 327.8L1133.0 311.0L1134.0 295.3L1135.0 280.6L1136.0 267.1L1137.0 254.7L1138.0 243.7L1139.0 234.0L1140.0 225.7L1141.0 219.0L1142.0 228.6L1143.0 241.2L1144.0 256.5L1145.0 274.4L1146.0 294.6L1147.0 316.8L1148.0 340.9L1149.0 366.5L1150.0 393.5L1151.0 421.7L1152.0 450.8L1153.0 480.5L1154.0 510.7L1155.0 541.0L1156.0 571.4L1157.0 601.5L1158.0 631.1L1159.0 660.0L1160.0 688.0L1161.0 714.7L1162.0 740.1L1163.0 763.8L1164.0 785.6L1165.0 805.4L1166.0 822.7L1167.0 837.6L1168.0 849.6L1169.0 855.9L1170.0 849.8L1171.0 842.3L1172.0 833.5L1173.0 823.4L1174.0 812.2L1175.0 800.0L1176.0 786.7L1177.0 772.5L1178.0 757.4L1179.0 741.6L1180.0 725.0L1181.0 707.9L1182.0 690.2L1183.0 672.0L1184.0 653.5L1185.0 634.6L1186.0 615.5L1187.0 596.3L1188.0 576.9L1189.0 557.6L1190.0 538.3L1191.0 519.2L1192.0 500.3L1193.0 481.6L1194.0 463.4L1195.0 445.6L1196.0 428.3L1197.0 411.7L1198.0 395.7L1199.0 380.5L1200.0 366.1L1201.0 352.6L1202.0 340.1L1203.0 328.7L1204.0 318.4L1205.0 309.3L1206.0 301.6L1207.0 295.2L1208.0 297.7L1209.0 307.8L1210.0 320.4L1211.0 335.4L1212.0 352.5L1213.0 371.5L1214.0 392.2L1215.0 414.4L1216.0 437.8L1217.0 462.3L1218.0 487.6L1219.0 513.5L1220.0 539.8L1221.0 566.3L1222.0 592.7L1223.0 618.9L1224.0 644.6L1225.0 669.6L1226.0 693.7L1227.0 716.7L1228.0 738.3L1229.0 758.3L1230.0 776.6L1231.0 792.9L1232.0 806.9L1233.0 818.6L1234.0 827.5L1235.0 825.0L1236.0 818.8L1237.0 811.3L1238.0 802.5L1239.0 792.7L1240.0 781.8L1241.0 769.9L1242.0 757.2L1243.0 743.7L1244.0 729.5L1245.0 714.7L1246.0 699.3L1247.0 683.6L1248.0 667.4L1249.0 651.1L1250.0 634.5L1251.0 617.8L1252.0 601.2L1253.0 584.6L1254.0 568.2L1255.0 552.0L1256.0 536.2L1257.0 520.8L1258.0 506.0L1259.0 491.7L1260.0 478.1L1261.0 465.3L1262.0 453.4L1263.0 442.4L1264.0 432.4L1265.0 423.5L1266.0 415.9L1267.0 409.5L1268.0 405.6L1269.0 412.9L1270.0 422.5L1271.0 434.2L1272.0 447.8L1273.0 463.0L1274.0 479.8L1275.0 497.9L1276.0 517.2L1277.0 537.5L1278.0 558.5L1279.0 580.1L1280.0 602.1L1281.0 624.4L1282.0 646.7L1283.0 668.9L1284.0 690.8L1285.0 712.1L1286.0 732.8L1287.0 752.6L1288.0 771.3L1289.0 788.8L1290.0 804.8L1291.0 819.2L1292.0 831.9L1293.0 842.5L1294.0 851.0L1295.0 853.7L1296.0 849.2L1297.0 843.1L1298.0 835.7L1299.0 827.3L1300.0 818.1L1301.0 808.4L1302.0 798.3L1303.0 788.2L1304.0 778.2L1305.0 768.8L1306.0 760.0L1307.0 751.5L1308.0 742.6L1309.0 733.6L1310.0 724.5L1311.0 715.5L1312.0 706.5L1313.0 697.9L1314.0 689.6L1315.0 681.8L1316.0 674.5L1317.0 668.0L1318.0 663.5L1319.0 659.0L1320.0 654.6L1321.0 650.3L1322.0 646.1L1323.0 642.2L1324.0 638.5L1325.0 635.1L1326.0 632.1L1327.0 629.6L1328.0 627.5L1329.0 626.0L1330.0 629.3L1331.0 633.9L1332.0 639.7L1333.0 646.5L1334.0 654.1L1335.0 662.4L1336.0 671.1L1337.0 680.0L1338.0 689.1L1339.0 698.0L1340.0 710.2L1341.0 723.8L1342.0 738.4L1343.0 753.7L1344.0 769.5L1345.0 785.4L1346.0 801.1L1347.0 816.3L1348.0 830.8L1349.0 843.9L1350.0 856.5L1351.0 868.6L1352.0 878.9L1353.0 885.2L1354.0 889.2L1355.0 892.8L1356.0 896.1L1357.0 899.0L1358.0 901.6L1359.0 903.9L1360.0 905.6L1361.0 906.7L1362.0 907.6L1363.0 908.5L1364.0 909.4L1365.0 910.5L1366.0 912.4L1367.0 915.5L1368.0 919.1L1369.0 922.9L1370.0 926.5L1371.0 929.5L1372.0 931.6L1373.0 929.6L1374.0 923.5L1375.0 916.0L1376.0 908.8L1377.0 903.8L1378.0 903.5L1379.0 904.9L1380.0 906.6L1381.0 908.3L1382.0 909.9L1383.0 910.9L1384.0 909.6L1385.0 906.7L1386.0 902.9L1387.0 898.8L1388.0 894.8L1389.0 891.4L1390.0 889.3L1391.0 900.1L1392.0 917.4L1393.0 918.4L1394.0 917.1L1395.0 915.4L1396.0 913.4L1397.0 911.2L1398.0 906.3L1399.0 899.8L1400.0 895.2L1401.0 899.4L1402.0 907.8L1403.0 917.9L1404.0 936.1L1405.0 958.0L1406.0 979.9L1407.0 998.0L1408.0 1004.0L1409.0 1008.4L1410.0 1012.6L1411.0 1018.0L1412.0 1029.9L1413.0 1044.2L1414.0 1057.0L1415.0 1065.2L1416.0 1071.5L1417.0 1076.5L1418.0 1081.4L1419.0 1086.3L1420.0 1091.0L1421.0 1095.6L1422.0 1100.0L1423.0 1104.2L1424.0 1108.1L1425.0 1111.7L1426.0 1115.0L1427.0 1117.8L1428.0 1120.2L1429.0 1122.1L1430.0 1121.3L1431.0 1113.4L1432.0 1103.1L1433.0 1094.0L1434.0 1089.9L1435.0 1087.9L1436.0 1086.1L1437.0 1084.5L1438.0 1083.1L1439.0 1081.9L1440.0 1080.9L1441.0 1080.2L1442.0 1081.2L1443.0 1084.8L1444.0 1089.5L1445.0 1094.5L1446.0 1099.1L1447.0 1102.3L1448.0 1102.3L1449.0 1100.2L1450.0 1097.5L1451.0 1094.6L1452.0 1092.1L1453.0 1090.3L1454.0 1094.9L1455.0 1106.7L1456.0 1121.3L1457.0 1135.4L1458.0 1146.4L1459.0 1156.5L1460.0 1166.4L1461.0 1176.1L1462.0 1185.7L1463.0 1195.9L1464.0 1206.5L1465.0 1217.0L1466.0 1226.8L1467.0 1235.5L1468.0 1242.5L1469.0 1247.3L1470.0 1245.9L1471.0 1241.9L1472.0 1236.6L1473.0 1230.4L1474.0 1223.5L1475.0 1216.2L1476.0 1209.0L1477.0 1202.0L1478.0 1195.6L1479.0 1190.1L1480.0 1185.8L1481.0 1183.0L1482.0 1185.7L1483.0 1189.9L1484.0 1195.3L1485.0 1201.5L1486.0 1208.4L1487.0 1215.5L1488.0 1222.6L1489.0 1229.5L1490.0 1235.7L1491.0 1241.1L1492.0 1245.3L1493.0 1248.0L1494.0 1246.4L1495.0 1243.9L1496.0 1240.6L1497.0 1236.9L1498.0 1233.0L1499.0 1229.1L1500.0 1225.4L1501.0 1222.1L1502.0 1219.6L1503.0 1218.0L1504.0 1220.7L1505.0 1224.9L1506.0 1230.2L1507.0 1236.1L1508.0 1242.2L1509.0 1248.0L1510.0 1254.5L1511.0 1261.6L1512.0 1269.0L1513.0 1276.1L1514.0 1282.6L1515.0 1288.0L1516.0 1291.3L1517.0 1294.5L1518.0 1297.6L1519.0 1300.4L1520.0 1303.0L1521.0 1305.1L1522.0 1306.8L1523.0 1308.0L1524.0 1306.7L1525.0 1304.6L1526.0 1301.9L1527.0 1299.0L1528.0 1296.1L1529.0 1293.4L1530.0 1291.3L1531.0 1290.0L1532.0 1290.5L1533.0 1291.1L1534.0 1291.9L1535.0 1292.8L1536.0 1293.8L1537.0 1294.9L1538.0 1296.1L1539.0 1297.4L1540.0 1298.7L1541.0 1300.0L1542.0 1301.3L1543.0 1303.0L1544.0 1305.1L1545.0 1307.5L1546.0 1310.0L1547.0 1312.7L1548.0 1315.4L1549.0 1318.3L1550.0 1321.1L1551.0 1324.0L1552.0 1326.8L1553.0 1329.5L1554.0 1332.0L1555.0 1334.4L1556.0 1336.7L1557.0 1339.2L1558.0 1341.7L1559.0 1344.3L1560.0 1346.7L1561.0 1349.0L1562.0 1351.2L1563.0 1353.1L1564.0 1354.7L1565.0 1356.1L1566.0 1357.0L1567.0 1356.8L1568.0 1356.6L1569.0 1356.2L1570.0 1355.9L1571.0 1355.4L1572.0 1355.0L1573.0 1354.5L1574.0 1354.0L1575.0 1353.5L1576.0 1353.0L1577.0 1352.6L1578.0 1352.1L1579.0 1351.8L1580.0 1351.4L1581.0 1351.2L1582.0 1351.0L1583.0 1351.7L1584.0 1352.8L1585.0 1354.1L1586.0 1355.6L1587.0 1357.3L1588.0 1359.2L1589.0 1361.2L1590.0 1363.2L1591.0 1365.3L1592.0 1367.4L1593.0 1369.5L1594.0 1371.4L1595.0 1373.3L1596.0 1375.1L1597.0 1376.6L1598.0 1378.0L1599.0 1378.9L1600.0 1379.7L1601.0 1380.5L1602.0 1381.3L1603.0 1382.1L1604.0 1382.9L1605.0 1383.6L1606.0 1384.3L1607.0 1385.0L1608.0 1385.7L1609.0 1386.4L1610.0 1387.0L1611.0 1387.7L1612.0 1388.3L1613.0 1388.9L1614.0 1389.5L1615.0 1390.1L1616.0 1390.7L1617.0 1391.3L1618.0 1391.9L1619.0 1392.4L1620.0 1393.0L1621.0 1393.5L1622.0 1393.9L1623.0 1394.4L1624.0 1394.9L1625.0 1395.3L1626.0 1395.8L1627.0 1396.2L1628.0 1396.7L1629.0 1397.1L1630.0 1397.5L1631.0 1398.0L1632.0 1398.4L1633.0 1398.8L1634.0 1399.2L1635.0 1399.6L1636.0 1400.0L1637.0 1400.4L1638.0 1400.8L1639.0 1401.2L1640.0 1401.6L1641.0 1402.0L1642.0 1402.3L1643.0 1402.7L1644.0 1403.1L1645.0 1403.4L1646.0 1403.7L1647.0 1404.1L1648.0 1404.4L1649.0 1404.7L1650.0 1405.0L1651.0 1405.2L1652.0 1405.4L1653.0 1405.6L1654.0 1405.9L1655.0 1406.1L1656.0 1406.3L1657.0 1406.5L1658.0 1406.7L1659.0 1406.9L1660.0 1407.1L1661.0 1407.3L1662.0 1407.5L1663.0 1407.7L1664.0 1407.8L1665.0 1408.0L1666.0 1408.2L1667.0 1408.4L1668.0 1408.6L1669.0 1408.8L1670.0 1408.9L1671.0 1409.1L1672.0 1409.3L1673.0 1409.5L1674.0 1409.6L1675.0 1409.8L1676.0 1410.0L1677.0 1410.1L1678.0 1410.3L1679.0 1410.4L1680.0 1410.6L1681.0 1410.8L1682.0 1410.9L1683.0 1411.1L1684.0 1411.2L1685.0 1411.4L1686.0 1411.5L1687.0 1411.7L1688.0 1411.8L1689.0 1412.0L1690.0 1412.1L1691.0 1412.3L1692.0 1412.4L1693.0 1412.5L1694.0 1412.7L1695.0 1412.8L1696.0 1413.0L1697.0 1413.1L1698.0 1413.2L1699.0 1413.4L1700.0 1413.5L1701.0 1413.6L1702.0 1413.7L1703.0 1413.8L1704.0 1413.9L1705.0 1414.0L1706.0 1414.1L1707.0 1414.3L1708.0 1414.4L1709.0 1414.5L1710.0 1414.6L1711.0 1414.7L1712.0 1414.8L1713.0 1414.9L1714.0 1415.0L1715.0 1415.1L1716.0 1415.2L1717.0 1415.3L1718.0 1415.4L1719.0 1415.5L1720.0 1415.6L1721.0 1415.7L1722.0 1415.8L1723.0 1415.9L1724.0 1416.0L1725.0 1416.1L1726.0 1416.2L1727.0 1416.2L1728.0 1416.3L1729.0 1416.4L1730.0 1416.5L1731.0 1416.5L1732.0 1416.6L1733.0 1416.7L1734.0 1416.7L1735.0 1416.8L1736.0 1416.8L1737.0 1416.9L1738.0 1416.9L1739.0 1417.0L1740.0 1417.0L1741.0 1417.0L1742.0 1417.0L1743.0 1417.0L1744.0 1417.0L1745.0 1417.0L1746.0 1417.0L1747.0 1417.0L1748.0 1417.0L1749.0 1417.0L1750.0 1417.0L1751.0 1417.0L1752.0 1417.0L1753.0 1417.0L1754.0 1417.0L1755.0 1417.0L1756.0 1417.0L1757.0 1417.0L1758.0 1417.0L1759.0 1417.0L1760.0 1417.0L1761.0 1417.0L1762.0 1417.0L1763.0 1417.0L1764.0 1417.0L1765.0 1417.0L1766.0 1417.0L1767.0 1417.0L1768.0 1417.0L1769.0 1417.0L1770.0 1417.0L1771.0 1417.0L1772.0 1417.0L1773.0 1417.0L1774.0 1417.0L1775.0 1417.0L1776.0 1417.0L1777.0 1417.0L1778.0 1417.0L1779.0 1417.0L1780.0 1417.0L1781.0 1417.0L1782.0 1417.0L1783.0 1417.0L1784.0 1417.0L1785.0 1417.0L1786.0 1417.0L1787.0 1417.0L1788.0 1417.0L1789.0 1417.0L1790.0 1417.0L1791.0 1417.0L1792.0 1417.0L1793.0 1417.0L1794.0 1417.0L1795.0 1417.0L1796.0 1417.0L1797.0 1417.0L1798.0 1417.0L1799.0 1417.0L1800.0 1417.0L1801.0 1417.0L1802.0 1417.0L1803.0 1417.0L1804.0 1417.0L1805.0 1417.0L1806.0 1417.0L1807.0 1417.0L1808.0 1417.0L1809.0 1417.0L1810.0 1417.0L1811.0 1417.0L1812.0 1417.0L1813.0 1417.0L1814.0 1417.0L1815.0 1417.0L1816.0 1417.0L1817.0 1417.0L1818.0 1417.0L1819.0 1417.0L1820.0 1417.0L1821.0 1417.0L1822.0 1417.0L1823.0 1417.0L1824.0 1417.0L1825.0 1417.0L1826.0 1417.0L1827.0 1417.0L1828.0 1417.0L1829.0 1417.0L1830.0 1417.0L1831.0 1417.0L1832.0 1417.0L1833.0 1417.0L1834.0 1417.0L1835.0 1417.0L1836.0 1417.0L1837.0 1417.0L1838.0 1417.0L1839.0 1417.0L1840.0 1417.0L1841.0 1417.0L1842.0 1417.0L1843.0 1417.0L1844.0 1417.0L1845.0 1417.0L1846.0 1417.0L1847.0 1417.0L1848.0 1417.0L1849.0 1417.0L1850.0 1417.0L1851.0 1417.0L1852.0 1417.0L1853.0 1417.0L1854.0 1417.0L1855.0 1417.0L1856.0 1417.0L1857.0 1417.0L1858.0 1417.0L1859.0 1417.0L1860.0 1417.0L1861.0 1417.0L1862.0 1417.0L1863.0 1417.0L1864.0 1417.0L1865.0 1417.0L1866.0 1417.0L1867.0 1417.0L1868.0 1417.0L1869.0 1417.0L1870.0 1417.0L1871.0 1417.0L1872.0 1417.0L1873.0 1417.0L1874.0 1417.0L1875.0 1417.0L1876.0 1417.0L1877.0 1417.0L1878.0 1417.0L1879.0 1417.0L1880.0 1417.0L1881.0 1417.0L1882.0 1417.0L1883.0 1417.0L1884.0 1417.0L1885.0 1417.0L1886.0 1417.0L1887.0 1417.0L1888.0 1417.0L1889.0 1417.0L1890.0 1417.0L1891.0 1417.0L1892.0 1417.0L1893.0 1417.0L1894.0 1417.0L1895.0 1417.0L1896.0 1417.0L1897.0 1417.0L1898.0 1417.0L1899.0 1417.0L1900.0 1417.0L1901.0 1417.0L1902.0 1417.0L1903.0 1417.0L1904.0 1417.0L1905.0 1417.0L1906.0 1417.0L1907.0 1417.0L1908.0 1417.0L1909.0 1417.0L1910.0 1417.0L1911.0 1417.0L1912.0 1417.0L1913.0 1417.0L1914.0 1417.0L1915.0 1417.0L1916.0 1417.0L1917.0 1417.0L1918.0 1417.0L1919.0 1417.0L1920.0 1417.0L1921.0 1417.0L1922.0 1417.0L1923.0 1417.0L1924.0 1417.0L1925.0 1417.0L1926.0 1417.0L1927.0 1417.0L1928.0 1417.0L1929.0 1417.0L1930.0 1417.0L1931.0 1417.0L1932.0 1417.0L1933.0 1417.0L1934.0 1417.0L1935.0 1417.0L1936.0 1417.0L1937.0 1417.0L1938.0 1417.0L1939.0 1417.0L1940.0 1417.0L1941.0 1417.0L1942.0 1417.0L1943.0 1417.0L1944.0 1417.0L1945.0 1417.0L1946.0 1417.0L1947.0 1417.0L1948.0 1417.0L1949.0 1417.0L1950.0 1417.0L1951.0 1417.0L1952.0 1417.0L1953.0 1417.0L1954.0 1417.0L1955.0 1417.0L1956.0 1417.0L1957.0 1417.0L1958.0 1417.0L1959.0 1417.0L1960.0 1417.0L1961.0 1417.0L1962.0 1417.0L1963.0 1417.0L1964.0 1417.0L1965.0 1417.0L1966.0 1417.0L1967.0 1417.0L1968.0 1417.0L1969.0 1417.0" stroke="#fdc000" stroke-width="4.5"/>
</g>
<g>
<rect x="311.4" y="1410.5" width="13.2" height="13" fill="#1c1a22"/>
<rect x="313.5" y="1412.5" width="9" height="9" fill="#d8dce8"/>
<rect x="386.4" y="1409.5" width="13.2" height="13" fill="#1c1a22"/>
<rect x="388.2" y="1413.0" width="9.6" height="6.5" fill="#1d48e8"/>
<rect x="443.4" y="1404.5" width="13.2" height="13" fill="#1c1a22"/>
<rect x="445.2" y="1408.0" width="9.6" height="6.5" fill="#1d48e8"/>
<rect x="494.4" y="1404.5" width="13.2" height="13" fill="#1c1a22"/>
<rect x="498.0" y="1406.0" width="6.2" height="10" fill="#eda86c"/>
<rect x="544.4" y="1384.5" width="13.2" height="13" fill="#1c1a22"/>
<rect x="548.0" y="1386.0" width="6.2" height="10" fill="#eda86c"/>
<rect x="594.4" y="1381.5" width="13.2" height="13" fill="#1c1a22"/>
<rect x="598.0" y="1383.0" width="6.2" height="10" fill="#eda86c"/>
<rect x="644.4" y="1344.5" width="13.2" height="13" fill="#1c1a22"/>
<rect x="648.0" y="1346.0" width="6.2" height="10" fill="#eda86c"/>
<rect x="694.4" y="1250.5" width="13.2" height="13" fill="#1c1a22"/>
<rect x="698.0" y="1252.0" width="6.2" height="10" fill="#eda86c"/>
<rect x="744.4" y="1259.5" width="13.2" height="13" fill="#1c1a22"/>
<rect x="748.0" y="1261.0" width="6.2" height="10" fill="#eda86c"/>
<rect x="795.4" y="1106.5" width="13.2" height="13" fill="#1c1a22"/>
<rect x="799.0" y="1108.0" width="6.2" height="10" fill="#eda86c"/>
<rect x="845.4" y="911.5" width="13.2" height="13" fill="#1c1a22"/>
<rect x="849.0" y="913.0" width="6.2" height="10" fill="#eda86c"/>
<rect x="894.4" y="1099.5" width="13.2" height="13" fill="#1c1a22"/>
<rect x="898.0" y="1101.0" width="6.2" height="10" fill="#eda86c"/>
<rect x="945.4" y="664.5" width="13.2" height="13" fill="#1c1a22"/>
<rect x="949.0" y="666.0" width="6.2" height="10" fill="#eda86c"/>
<rect x="995.4" y="930.5" width="13.2" height="13" fill="#1c1a22"/>
<rect x="999.0" y="932.0" width="6.2" height="10" fill="#eda86c"/>
<rect x="1046.4" y="590.5" width="13.2" height="13" fill="#1c1a22"/>
<rect x="1050.0" y="592.0" width="6.2" height="10" fill="#eda86c"/>
<rect x="1096.4" y="360.5" width="13.2" height="13" fill="#1c1a22"/>
<rect x="1100.0" y="362.0" width="6.2" height="10" fill="#eda86c"/>
<rect x="1147.4" y="776.5" width="13.2" height="13" fill="#1c1a22"/>
<rect x="1151.0" y="778.0" width="6.2" height="10" fill="#eda86c"/>
<rect x="1196.4" y="782.5" width="13.2" height="13" fill="#1c1a22"/>
<rect x="1200.0" y="784.0" width="6.2" height="10" fill="#eda86c"/>
<rect x="1246.4" y="629.5" width="13.2" height="13" fill="#1c1a22"/>
<rect x="1250.0" y="631.0" width="6.2" height="10" fill="#eda86c"/>
<rect x="1297.4" y="534.5" width="13.2" height="13" fill="#1c1a22"/>
<rect x="1301.0" y="536.0" width="6.2" height="10" fill="#eda86c"/>
<rect x="1347.4" y="804.5" width="13.2" height="13" fill="#1c1a22"/>
<rect x="1351.0" y="806.0" width="6.2" height="10" fill="#eda86c"/>
<rect x="1397.4" y="1062.5" width="13.2" height="13" fill="#1c1a22"/>
<rect x="1401.0" y="1064.0" width="6.2" height="10" fill="#eda86c"/>
<rect x="1446.4" y="1166.5" width="13.2" height="13" fill="#1c1a22"/>
<rect x="1450.0" y="1168.0" width="6.2" height="10" fill="#eda86c"/>
<rect x="1498.4" y="1227.5" width="13.2" height="13" fill="#1c1a22"/>
<rect x="1500.2" y="1231.0" width="9.6" height="6.5" fill="#1d48e8"/>
<rect x="1548.4" y="1335.5" width="13.2" height="13" fill="#1c1a22"/>
<rect x="1550.2" y="1339.0" width="9.6" height="6.5" fill="#1d48e8"/>
<rect x="1599.4" y="1379.5" width="13.2" height="13" fill="#1c1a22"/>
<rect x="1601.2" y="1383.0" width="9.6" height="6.5" fill="#1d48e8"/>
<rect x="1648.4" y="1397.5" width="13.2" height="13" fill="#1c1a22"/>
<rect x="1650.2" y="1401.0" width="9.6" height="6.5" fill="#1d48e8"/>
<rect x="1698.4" y="1408.5" width="13.2" height="13" fill="#1c1a22"/>
<rect x="1700.2" y="1412.0" width="9.6" height="6.5" fill="#1d48e8"/>
<rect x="1751.4" y="1410.5" width="13.2" height="13" fill="#1c1a22"/>
<rect x="1753.2" y="1414.0" width="9.6" height="6.5" fill="#1d48e8"/>
<rect x="1807.4" y="1410.5" width="13.2" height="13" fill="#1c1a22"/>
<rect x="1809.2" y="1414.0" width="9.6" height="6.5" fill="#1d48e8"/>
<rect x="1877.4" y="1410.5" width="13.2" height="13" fill="#1c1a22"/>
<rect x="1879.2" y="1414.0" width="9.6" height="6.5" fill="#1d48e8"/>
</g>
<rect x="1434.3" y="68.6" width="557" height="362.2" fill="#fff" stroke="#111" stroke-width="2.8"/>
<line x1="1430" y1="67.4" x2="1994.1" y2="67.4" stroke="#000" stroke-width="5.2"/>
<line x1="1991.5" y1="67.4" x2="1991.5" y2="440" stroke="#000" stroke-width="5.2"/>
<line x1="1442.8" y1="210.2" x2="1599.5" y2="210.2" stroke="#ff0000" stroke-width="7.4" stroke-linecap="round"/>
<line x1="1442.8" y1="296.7" x2="1599.5" y2="296.7" stroke="#025a96" stroke-width="7.2" stroke-linecap="round"/>
<line x1="1443.0" y1="382.3" x2="1599.5" y2="382.3" stroke="#fdc000" stroke-width="4.8" stroke-linecap="round"/>
<g font-family="Liberation Sans, Arial, sans-serif" fill="#000">
<text transform="translate(273.30,1434.00) scale(1.0000,1.0450)" font-size="57.5" text-anchor="end">0</text>
<text transform="translate(273.30,1164.40) scale(1.0000,1.0450)" font-size="57.5" text-anchor="end">50</text>
<text transform="translate(273.30,894.60) scale(1.0000,1.0450)" font-size="57.5" text-anchor="end">100</text>
<text transform="translate(273.30,624.60) scale(1.0000,1.0450)" font-size="57.5" text-anchor="end">150</text>
<text transform="translate(273.30,354.60) scale(1.0000,1.0450)" font-size="57.5" text-anchor="end">200</text>
<text transform="translate(273.30,85.30) scale(1.0000,1.0450)" font-size="57.5" text-anchor="end">250</text>
<text transform="translate(527.50,1506.40) scale(1.0000,1.0500)" font-size="57.5" text-anchor="middle">1250</text>
<text transform="translate(946.90,1506.40) scale(1.0000,1.0500)" font-size="57.5" text-anchor="middle">1300</text>
<text transform="translate(1365.30,1506.40) scale(1.0000,1.0500)" font-size="57.5" text-anchor="middle">1350</text>
<text transform="translate(1784.10,1506.40) scale(1.0000,1.0500)" font-size="57.5" text-anchor="middle">1400</text>
<text transform="translate(0,1616.40) scale(1,1.0400)" x="894.09 957.38 997.96 1030.78 1071.42 1085.48 1124.19 1163.52 1202.43 1222.48 1261.96 1279.34 1301.39 1340.87 1400.02" y="0" font-size="71" style="font-kerning:none">Wavelength [nm]</text>
<text transform="translate(98.4,915.5) rotate(-90) scale(1,1.04)" y="0" font-size="71" style="font-kerning:none"><tspan x="0.95 22.19 62.23 78.58 120.09 157.32 193.75 207.73 231.03 266.53 280.14">Intensity [</tspan><tspan x="306.66" font-size="57">μ</tspan><tspan x="345.89 410.95">W]</tspan></text>
<text transform="translate(0,148.30) scale(1,1.0400)" x="1441.59 1483.46 1521.25 1581.39 1618.96 1659.85 1681.46 1722.12 1745.06 1779.75 1801.96 1841.73 1862.00 1881.04 1908.17 1961.24" y="0" font-size="71.5" style="font-kerning:none">Temperature [°C]</text>
<text transform="translate(1617.20,233.60) scale(1.0000,1.0330)" font-size="70" text-anchor="start">100</text>
<text transform="translate(1617.20,319.90) scale(1.0000,1.0330)" font-size="70" text-anchor="start">200</text>
<text transform="translate(1617.20,406.00) scale(1.0000,1.0330)" font-size="70" text-anchor="start">300</text>
</g>
</svg></body></html>
